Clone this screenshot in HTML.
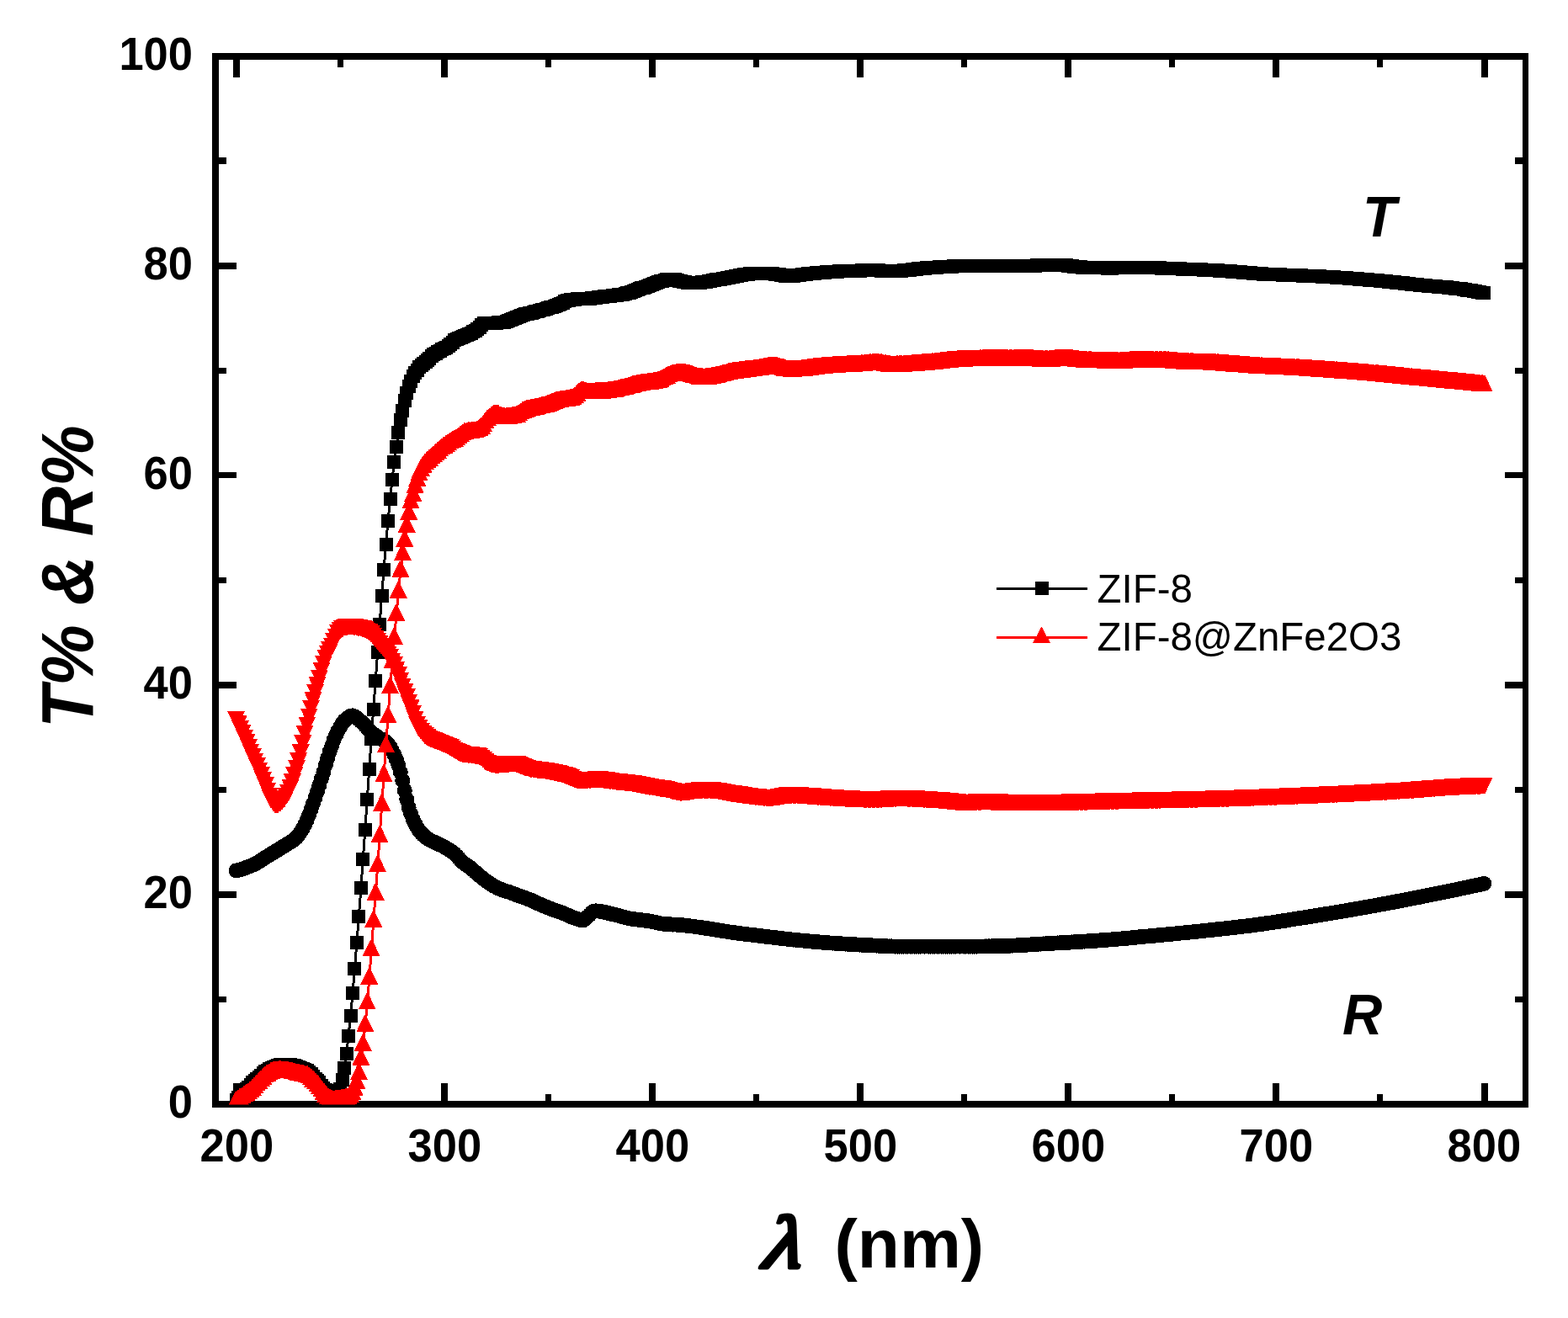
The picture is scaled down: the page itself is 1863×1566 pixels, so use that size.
<!DOCTYPE html>
<html lang="en"><head><meta charset="utf-8"><title>T% &amp; R% vs wavelength</title>
<style>html,body{margin:0;padding:0;background:#fff}svg{display:block}text{font-family:"Liberation Sans",Arial,Helvetica,sans-serif;fill:#000}.tk{font-size:52.5px;font-weight:bold}.ax{font-size:82px;font-weight:bold}.an{font-size:65.5px;font-weight:bold;font-style:italic}.lg{font-size:47.45px}</style></head><body>
<svg width="1863" height="1566" viewBox="0 0 1863 1566" shape-rendering="crispEdges">
<rect width="1863" height="1566" fill="#fff"/>
<g fill="#000">
<path fill-rule="evenodd" d="M252 63H1816V1316H252ZM260 71V1308H1809V71Z"/>
<rect x="277" y="1287" width="8" height="22"/><rect x="277" y="70" width="8" height="22"/><rect x="401" y="1300" width="7" height="9"/><rect x="401" y="70" width="7" height="10"/><rect x="524" y="1287" width="8" height="22"/><rect x="524" y="70" width="8" height="22"/><rect x="648" y="1300" width="7" height="9"/><rect x="648" y="70" width="7" height="10"/><rect x="771" y="1287" width="8" height="22"/><rect x="771" y="70" width="8" height="22"/><rect x="895" y="1300" width="7" height="9"/><rect x="895" y="70" width="7" height="10"/><rect x="1018" y="1287" width="8" height="22"/><rect x="1018" y="70" width="8" height="22"/><rect x="1142" y="1300" width="7" height="9"/><rect x="1142" y="70" width="7" height="10"/><rect x="1265" y="1287" width="8" height="22"/><rect x="1265" y="70" width="8" height="22"/><rect x="1389" y="1300" width="7" height="9"/><rect x="1389" y="70" width="7" height="10"/><rect x="1512" y="1287" width="8" height="22"/><rect x="1512" y="70" width="8" height="22"/><rect x="1636" y="1300" width="7" height="9"/><rect x="1636" y="70" width="7" height="10"/><rect x="1760" y="1287" width="8" height="22"/><rect x="1760" y="70" width="8" height="22"/><rect x="259" y="1184" width="10" height="7"/><rect x="1800" y="1184" width="10" height="7"/><rect x="259" y="1059" width="22" height="8"/><rect x="1788" y="1059" width="22" height="8"/><rect x="259" y="935" width="10" height="7"/><rect x="1800" y="935" width="10" height="7"/><rect x="259" y="810" width="22" height="8"/><rect x="1788" y="810" width="22" height="8"/><rect x="259" y="686" width="10" height="7"/><rect x="1800" y="686" width="10" height="7"/><rect x="259" y="561" width="22" height="7"/><rect x="1788" y="561" width="22" height="7"/><rect x="259" y="437" width="10" height="7"/><rect x="1800" y="437" width="10" height="7"/><rect x="259" y="312" width="22" height="8"/><rect x="1788" y="312" width="22" height="8"/><rect x="259" y="187" width="10" height="8"/><rect x="1800" y="187" width="10" height="8"/>
</g>
<clipPath id="c"><rect x="256" y="67" width="1556.5" height="1245.5"/></clipPath>
<g clip-path="url(#c)">
<path d="M280.6 1307L283.1 1304L285.5 1294.9L288 1295.2L290.5 1294.8L293 1293.9L295.4 1291.9L297.9 1288.8L300.4 1286L302.8 1283.7L305.3 1281.6L307.8 1279.6L310.3 1277.6L312.7 1275.4L315.2 1273.4L317.7 1271.8L320.1 1270.3L322.6 1269L325.1 1267.8L327.5 1266.6L330 1265.6L332.5 1265L335 1264.9L337.4 1264.9L339.9 1264.9L342.4 1264.9L344.8 1265L347.3 1265.6L349.8 1266.4L352.3 1267.3L354.7 1268.1L357.2 1268.9L359.7 1269.8L362.1 1270.8L364.6 1272L367.1 1273.5L369.6 1275.6L372 1278.8L374.5 1281.5L377 1283.7L379.4 1286.4L381.9 1289.5L384.4 1292.7L386.9 1295L389.3 1296.6L391.8 1297.8L394.3 1298.3L396.7 1297.9L399.2 1297L401.7 1295.8L404.2 1293.7L406.6 1283L409.1 1269L411.6 1252L414 1231.1L416.5 1207.4L419 1180L421.4 1150.8L423.9 1120.3L426.4 1088.5L428.9 1054.8L431.3 1020.7L433.8 985.8L436.3 949.7L438.7 913.6L441.2 877.5L443.7 842.6L446.2 809L448.6 775.4L451.1 741.8L453.6 708.2L456 677.1L458.5 647.2L461 619.2L463.5 593.1L465.9 570.2L468.4 549.1L470.9 531L473.3 514.1L475.8 499L478.3 487.8L480.8 476.1L483.2 467.1L485.7 459.4L488.2 453L490.6 447.1L493.1 443L495.6 440L498 436L500.5 433.6L503 431.7L505.5 430L507.9 428.1L510.4 425.5L512.9 423.1L515.3 421.3L517.8 419.7L520.3 418.3L522.8 416.8L525.2 415.4L527.7 414.1L530.2 412.7L532.6 411.2L535.1 409.4L537.6 406.7L540.1 404.2L542.5 402.7L545 401.5L547.5 400.5L549.9 399.6L552.4 398.7L554.9 397.8L557.4 396.8L559.8 395.7L562.3 394.4L564.8 392.9L567.2 391.3L569.7 388.9L572.2 386.1L574.6 384.1L577.1 383.8L579.6 383.7L582.1 383.6L584.5 383.5L587 383.5L589.5 383.5L591.9 383.4L594.4 383.3L596.9 383.2L599.4 382.9L601.8 382.3L604.3 381.4L606.8 380.3L609.2 379.1L611.7 377.9L614.2 376.7L616.7 375.6L619.1 374.7L621.6 373.9L624.1 373.3L626.5 372.7L629 372.1L631.5 371.5L634 371L636.4 370.4L638.9 369.7L641.4 369.1L643.8 368.3L646.3 367.6L648.8 366.8L651.2 366.1L653.7 365.3L656.2 364.5L658.7 363.6L661.1 362.8L663.6 361.8L666.1 360.6L668.5 359.5L671 358.4L673.5 357.4L676 356.6L678.4 356L680.9 355.7L683.4 355.5L685.8 355.4L688.3 355.2L690.8 355.1L693.3 355L695.7 354.9L698.2 354.7L700.7 354.5L703.1 354.3L705.6 354L708.1 353.7L710.6 353.3L713 353L715.5 352.7L718 352.3L720.4 352L722.9 351.7L725.4 351.5L727.9 351.2L730.3 350.9L732.8 350.6L735.3 350.3L737.7 349.9L740.2 349.5L742.7 349L745.1 348.3L747.6 347.6L750.1 346.8L752.6 345.9L755 345L757.5 344.2L760 343.3L762.4 342.4L764.9 341.5L767.4 340.5L769.9 339.5L772.3 338.5L774.8 337.6L777.3 336.7L779.7 335.9L782.2 335.1L784.7 334.3L787.2 333.5L789.6 332.7L792.1 332.1L794.6 331.7L797 331.6L799.5 331.7L802 332.2L804.5 332.8L806.9 333.5L809.4 334.2L811.9 334.7L814.3 335.1L816.8 335.5L819.3 335.9L821.7 336.1L824.2 336.2L826.7 336.1L829.2 336L831.6 335.7L834.1 335.4L836.6 335.1L839 334.7L841.5 334.3L844 333.8L846.5 333.4L848.9 332.9L851.4 332.4L853.9 331.9L856.3 331.5L858.8 331.1L861.3 330.7L863.8 330.3L866.2 329.8L868.7 329.3L871.2 328.8L873.6 328.3L876.1 327.8L878.6 327.3L881.1 326.8L883.5 326.4L886 326L888.5 325.6L890.9 325.3L893.4 325L895.9 324.8L898.4 324.7L900.8 324.7L903.3 324.7L905.8 324.8L908.2 324.8L910.7 324.8L913.2 324.9L915.6 325L918.1 325.1L920.6 325.5L923.1 325.9L925.5 326.4L928 326.9L930.5 327.3L932.9 327.7L935.4 327.8L937.9 327.8L940.4 327.7L942.8 327.5L945.3 327.2L947.8 326.9L950.2 326.5L952.7 326.2L955.2 325.9L957.7 325.6L960.1 325.3L962.6 325.1L965.1 324.9L967.5 324.6L970 324.4L972.5 324.2L975 323.9L977.4 323.7L979.9 323.5L982.4 323.3L984.8 323.1L987.3 322.9L989.8 322.7L992.2 322.6L994.7 322.5L997.2 322.3L999.7 322.2L1002.1 322.1L1004.6 322L1007.1 322L1009.5 321.9L1012 321.8L1014.5 321.7L1017 321.6L1019.4 321.5L1021.9 321.5L1024.4 321.4L1026.8 321.4L1029.3 321.3L1031.8 321.3L1034.3 321.3L1036.7 321.2L1039.2 321.2L1041.7 321.3L1044.1 321.3L1046.6 321.5L1049.1 321.7L1051.6 321.8L1054 322L1056.5 322.1L1059 322.2L1061.4 322.2L1063.9 322.1L1066.4 322L1068.8 321.9L1071.3 321.7L1073.8 321.4L1076.3 321.1L1078.7 320.9L1081.2 320.6L1083.7 320.2L1086.1 319.9L1088.6 319.6L1091.1 319.3L1093.6 319.1L1096 318.8L1098.5 318.6L1101 318.4L1103.4 318.2L1105.9 318.1L1108.4 317.9L1110.9 317.7L1113.3 317.5L1115.8 317.4L1118.3 317.2L1120.7 317L1123.2 316.9L1125.7 316.8L1128.2 316.6L1130.6 316.5L1133.1 316.4L1135.6 316.3L1138 316.3L1140.5 316.2L1143 316.2L1145.5 316.2L1147.9 316.2L1150.4 316.1L1152.9 316.1L1155.3 316.1L1157.8 316.1L1160.3 316.1L1162.7 316.1L1165.2 316L1167.7 316L1170.2 316L1172.6 316L1175.1 316L1177.6 316L1180 316L1182.5 315.9L1185 315.9L1187.5 315.9L1189.9 315.9L1192.4 315.9L1194.9 315.9L1197.3 315.9L1199.8 315.9L1202.3 315.9L1204.8 315.9L1207.2 315.8L1209.7 315.8L1212.2 315.8L1214.6 315.8L1217.1 315.8L1219.6 315.8L1222.1 315.7L1224.5 315.7L1227 315.6L1229.5 315.5L1231.9 315.4L1234.4 315.4L1236.9 315.3L1239.3 315.2L1241.8 315.1L1244.3 315L1246.8 314.9L1249.2 314.8L1251.7 314.8L1254.2 314.8L1256.6 314.8L1259.1 314.8L1261.6 314.9L1264.1 315.1L1266.5 315.4L1269 315.6L1271.5 315.9L1273.9 316.2L1276.4 316.5L1278.9 316.8L1281.4 317.1L1283.8 317.3L1286.3 317.5L1288.8 317.7L1291.2 317.8L1293.7 317.9L1296.2 318L1298.7 318.1L1301.1 318.1L1303.6 318.2L1306.1 318.3L1308.5 318.4L1311 318.4L1313.5 318.4L1315.9 318.5L1318.4 318.5L1320.9 318.5L1323.4 318.4L1325.8 318.4L1328.3 318.3L1330.8 318.2L1333.2 318.1L1335.7 318L1338.2 317.9L1340.7 317.8L1343.1 317.7L1345.6 317.7L1348.1 317.8L1350.5 317.8L1353 317.8L1355.5 317.9L1358 317.9L1360.4 318L1362.9 318L1365.4 318.1L1367.8 318.1L1370.3 318.2L1372.8 318.3L1375.3 318.4L1377.7 318.4L1380.2 318.5L1382.7 318.6L1385.1 318.7L1387.6 318.8L1390.1 318.9L1392.6 319L1395 319.1L1397.5 319.2L1400 319.3L1402.4 319.4L1404.9 319.5L1407.4 319.6L1409.8 319.7L1412.3 319.8L1414.8 319.9L1417.3 320L1419.7 320.1L1422.2 320.2L1424.7 320.3L1427.1 320.4L1429.6 320.5L1432.1 320.6L1434.6 320.7L1437 320.8L1439.5 321L1442 321.1L1444.4 321.2L1446.9 321.4L1449.4 321.5L1451.9 321.7L1454.3 321.8L1456.8 322L1459.3 322.2L1461.7 322.4L1464.2 322.5L1466.7 322.7L1469.2 322.9L1471.6 323.1L1474.1 323.3L1476.6 323.5L1479 323.7L1481.5 323.9L1484 324.2L1486.4 324.4L1488.9 324.6L1491.4 324.8L1493.9 325L1496.3 325.2L1498.8 325.4L1501.3 325.5L1503.7 325.7L1506.2 325.8L1508.7 325.9L1511.2 326L1513.6 326.1L1516.1 326.2L1518.6 326.3L1521 326.4L1523.5 326.5L1526 326.6L1528.5 326.7L1530.9 326.8L1533.4 326.9L1535.9 327L1538.3 327.1L1540.8 327.2L1543.3 327.3L1545.8 327.4L1548.2 327.5L1550.7 327.6L1553.2 327.8L1555.6 327.9L1558.1 328L1560.6 328.1L1563 328.2L1565.5 328.3L1568 328.4L1570.5 328.6L1572.9 328.7L1575.4 328.8L1577.9 328.9L1580.3 329.1L1582.8 329.2L1585.3 329.3L1587.8 329.5L1590.2 329.6L1592.7 329.8L1595.2 329.9L1597.6 330.1L1600.1 330.3L1602.6 330.5L1605.1 330.7L1607.5 330.9L1610 331L1612.5 331.3L1614.9 331.5L1617.4 331.7L1619.9 331.9L1622.4 332.1L1624.8 332.3L1627.3 332.5L1629.8 332.8L1632.2 333L1634.7 333.2L1637.2 333.4L1639.7 333.7L1642.1 333.9L1644.6 334.1L1647.1 334.4L1649.5 334.6L1652 334.9L1654.5 335.1L1656.9 335.4L1659.4 335.6L1661.9 335.9L1664.4 336.2L1666.8 336.4L1669.3 336.7L1671.8 337L1674.2 337.3L1676.7 337.5L1679.2 337.8L1681.7 338L1684.1 338.3L1686.6 338.6L1689.1 338.8L1691.5 339.1L1694 339.3L1696.5 339.5L1699 339.7L1701.4 340L1703.9 340.2L1706.4 340.4L1708.8 340.6L1711.3 340.8L1713.8 341L1716.3 341.2L1718.7 341.4L1721.2 341.7L1723.7 341.9L1726.1 342.2L1728.6 342.5L1731.1 342.8L1733.5 343.1L1736 343.4L1738.5 343.8L1741 344.2L1743.4 344.6L1745.9 345L1748.4 345.4L1750.8 345.9L1753.3 346.4L1755.8 346.9L1758.3 347.3L1760.7 347.9L1763.2 348.4" fill="none" stroke="#000" stroke-width="3"/>
<path d="M272.6 1299h16v16h-16zM275.1 1296h16v16h-16zM277.5 1286.9h16v16h-16zM280 1287.2h16v16h-16zM282.5 1286.8h16v16h-16zM285 1285.9h16v16h-16zM287.4 1283.9h16v16h-16zM289.9 1280.8h16v16h-16zM292.4 1278h16v16h-16zM294.8 1275.7h16v16h-16zM297.3 1273.6h16v16h-16zM299.8 1271.6h16v16h-16zM302.3 1269.6h16v16h-16zM304.7 1267.4h16v16h-16zM307.2 1265.4h16v16h-16zM309.7 1263.8h16v16h-16zM312.1 1262.3h16v16h-16zM314.6 1261h16v16h-16zM317.1 1259.8h16v16h-16zM319.5 1258.6h16v16h-16zM322 1257.6h16v16h-16zM324.5 1257h16v16h-16zM327 1256.9h16v16h-16zM329.4 1256.9h16v16h-16zM331.9 1256.9h16v16h-16zM334.4 1256.9h16v16h-16zM336.8 1257h16v16h-16zM339.3 1257.6h16v16h-16zM341.8 1258.4h16v16h-16zM344.3 1259.3h16v16h-16zM346.7 1260.1h16v16h-16zM349.2 1260.9h16v16h-16zM351.7 1261.8h16v16h-16zM354.1 1262.8h16v16h-16zM356.6 1264h16v16h-16zM359.1 1265.5h16v16h-16zM361.6 1267.6h16v16h-16zM364 1270.8h16v16h-16zM366.5 1273.5h16v16h-16zM369 1275.7h16v16h-16zM371.4 1278.4h16v16h-16zM373.9 1281.5h16v16h-16zM376.4 1284.7h16v16h-16zM378.9 1287h16v16h-16zM381.3 1288.6h16v16h-16zM383.8 1289.8h16v16h-16zM386.3 1290.3h16v16h-16zM388.7 1289.9h16v16h-16zM391.2 1289h16v16h-16zM393.7 1287.8h16v16h-16zM396.2 1285.7h16v16h-16zM398.6 1275h16v16h-16zM401.1 1261h16v16h-16zM403.6 1244h16v16h-16zM406 1223.1h16v16h-16zM408.5 1199.4h16v16h-16zM411 1172h16v16h-16zM413.4 1142.8h16v16h-16zM415.9 1112.3h16v16h-16zM418.4 1080.5h16v16h-16zM420.9 1046.8h16v16h-16zM423.3 1012.7h16v16h-16zM425.8 977.8h16v16h-16zM428.3 941.7h16v16h-16zM430.7 905.6h16v16h-16zM433.2 869.5h16v16h-16zM435.7 834.6h16v16h-16zM438.2 801h16v16h-16zM440.6 767.4h16v16h-16zM443.1 733.8h16v16h-16zM445.6 700.2h16v16h-16zM448 669.1h16v16h-16zM450.5 639.2h16v16h-16zM453 611.2h16v16h-16zM455.5 585.1h16v16h-16zM457.9 562.2h16v16h-16zM460.4 541.1h16v16h-16zM462.9 523h16v16h-16zM465.3 506.1h16v16h-16zM467.8 491h16v16h-16zM470.3 479.8h16v16h-16zM472.8 468.1h16v16h-16zM475.2 459.1h16v16h-16zM477.7 451.4h16v16h-16zM480.2 445h16v16h-16zM482.6 439.1h16v16h-16zM485.1 435h16v16h-16zM487.6 432h16v16h-16zM490 428h16v16h-16zM492.5 425.6h16v16h-16zM495 423.7h16v16h-16zM497.5 422h16v16h-16zM499.9 420.1h16v16h-16zM502.4 417.5h16v16h-16zM504.9 415.1h16v16h-16zM507.3 413.3h16v16h-16zM509.8 411.7h16v16h-16zM512.3 410.3h16v16h-16zM514.8 408.8h16v16h-16zM517.2 407.4h16v16h-16zM519.7 406.1h16v16h-16zM522.2 404.7h16v16h-16zM524.6 403.2h16v16h-16zM527.1 401.4h16v16h-16zM529.6 398.7h16v16h-16zM532.1 396.2h16v16h-16zM534.5 394.7h16v16h-16zM537 393.5h16v16h-16zM539.5 392.5h16v16h-16zM541.9 391.6h16v16h-16zM544.4 390.7h16v16h-16zM546.9 389.8h16v16h-16zM549.4 388.8h16v16h-16zM551.8 387.7h16v16h-16zM554.3 386.4h16v16h-16zM556.8 384.9h16v16h-16zM559.2 383.3h16v16h-16zM561.7 380.9h16v16h-16zM564.2 378.1h16v16h-16zM566.6 376.1h16v16h-16zM569.1 375.8h16v16h-16zM571.6 375.7h16v16h-16zM574.1 375.6h16v16h-16zM576.5 375.5h16v16h-16zM579 375.5h16v16h-16zM581.5 375.5h16v16h-16zM583.9 375.4h16v16h-16zM586.4 375.3h16v16h-16zM588.9 375.2h16v16h-16zM591.4 374.9h16v16h-16zM593.8 374.3h16v16h-16zM596.3 373.4h16v16h-16zM598.8 372.3h16v16h-16zM601.2 371.1h16v16h-16zM603.7 369.9h16v16h-16zM606.2 368.7h16v16h-16zM608.7 367.6h16v16h-16zM611.1 366.7h16v16h-16zM613.6 365.9h16v16h-16zM616.1 365.3h16v16h-16zM618.5 364.7h16v16h-16zM621 364.1h16v16h-16zM623.5 363.5h16v16h-16zM626 363h16v16h-16zM628.4 362.4h16v16h-16zM630.9 361.7h16v16h-16zM633.4 361.1h16v16h-16zM635.8 360.3h16v16h-16zM638.3 359.6h16v16h-16zM640.8 358.8h16v16h-16zM643.2 358.1h16v16h-16zM645.7 357.3h16v16h-16zM648.2 356.5h16v16h-16zM650.7 355.6h16v16h-16zM653.1 354.8h16v16h-16zM655.6 353.8h16v16h-16zM658.1 352.6h16v16h-16zM660.5 351.5h16v16h-16zM663 350.4h16v16h-16zM665.5 349.4h16v16h-16zM668 348.6h16v16h-16zM670.4 348h16v16h-16zM672.9 347.7h16v16h-16zM675.4 347.5h16v16h-16zM677.8 347.4h16v16h-16zM680.3 347.2h16v16h-16zM682.8 347.1h16v16h-16zM685.3 347h16v16h-16zM687.7 346.9h16v16h-16zM690.2 346.7h16v16h-16zM692.7 346.5h16v16h-16zM695.1 346.3h16v16h-16zM697.6 346h16v16h-16zM700.1 345.7h16v16h-16zM702.6 345.3h16v16h-16zM705 345h16v16h-16zM707.5 344.7h16v16h-16zM710 344.3h16v16h-16zM712.4 344h16v16h-16zM714.9 343.7h16v16h-16zM717.4 343.5h16v16h-16zM719.9 343.2h16v16h-16zM722.3 342.9h16v16h-16zM724.8 342.6h16v16h-16zM727.3 342.3h16v16h-16zM729.7 341.9h16v16h-16zM732.2 341.5h16v16h-16zM734.7 341h16v16h-16zM737.1 340.3h16v16h-16zM739.6 339.6h16v16h-16zM742.1 338.8h16v16h-16zM744.6 337.9h16v16h-16zM747 337h16v16h-16zM749.5 336.2h16v16h-16zM752 335.3h16v16h-16zM754.4 334.4h16v16h-16zM756.9 333.5h16v16h-16zM759.4 332.5h16v16h-16zM761.9 331.5h16v16h-16zM764.3 330.5h16v16h-16zM766.8 329.6h16v16h-16zM769.3 328.7h16v16h-16zM771.7 327.9h16v16h-16zM774.2 327.1h16v16h-16zM776.7 326.3h16v16h-16zM779.2 325.5h16v16h-16zM781.6 324.7h16v16h-16zM784.1 324.1h16v16h-16zM786.6 323.7h16v16h-16zM789 323.6h16v16h-16zM791.5 323.7h16v16h-16zM794 324.2h16v16h-16zM796.5 324.8h16v16h-16zM798.9 325.5h16v16h-16zM801.4 326.2h16v16h-16zM803.9 326.7h16v16h-16zM806.3 327.1h16v16h-16zM808.8 327.5h16v16h-16zM811.3 327.9h16v16h-16zM813.7 328.1h16v16h-16zM816.2 328.2h16v16h-16zM818.7 328.1h16v16h-16zM821.2 328h16v16h-16zM823.6 327.7h16v16h-16zM826.1 327.4h16v16h-16zM828.6 327.1h16v16h-16zM831 326.7h16v16h-16zM833.5 326.3h16v16h-16zM836 325.8h16v16h-16zM838.5 325.4h16v16h-16zM840.9 324.9h16v16h-16zM843.4 324.4h16v16h-16zM845.9 323.9h16v16h-16zM848.3 323.5h16v16h-16zM850.8 323.1h16v16h-16zM853.3 322.7h16v16h-16zM855.8 322.3h16v16h-16zM858.2 321.8h16v16h-16zM860.7 321.3h16v16h-16zM863.2 320.8h16v16h-16zM865.6 320.3h16v16h-16zM868.1 319.8h16v16h-16zM870.6 319.3h16v16h-16zM873.1 318.8h16v16h-16zM875.5 318.4h16v16h-16zM878 318h16v16h-16zM880.5 317.6h16v16h-16zM882.9 317.3h16v16h-16zM885.4 317h16v16h-16zM887.9 316.8h16v16h-16zM890.4 316.7h16v16h-16zM892.8 316.7h16v16h-16zM895.3 316.7h16v16h-16zM897.8 316.8h16v16h-16zM900.2 316.8h16v16h-16zM902.7 316.8h16v16h-16zM905.2 316.9h16v16h-16zM907.6 317h16v16h-16zM910.1 317.1h16v16h-16zM912.6 317.5h16v16h-16zM915.1 317.9h16v16h-16zM917.5 318.4h16v16h-16zM920 318.9h16v16h-16zM922.5 319.3h16v16h-16zM924.9 319.7h16v16h-16zM927.4 319.8h16v16h-16zM929.9 319.8h16v16h-16zM932.4 319.7h16v16h-16zM934.8 319.5h16v16h-16zM937.3 319.2h16v16h-16zM939.8 318.9h16v16h-16zM942.2 318.5h16v16h-16zM944.7 318.2h16v16h-16zM947.2 317.9h16v16h-16zM949.7 317.6h16v16h-16zM952.1 317.3h16v16h-16zM954.6 317.1h16v16h-16zM957.1 316.9h16v16h-16zM959.5 316.6h16v16h-16zM962 316.4h16v16h-16zM964.5 316.2h16v16h-16zM967 315.9h16v16h-16zM969.4 315.7h16v16h-16zM971.9 315.5h16v16h-16zM974.4 315.3h16v16h-16zM976.8 315.1h16v16h-16zM979.3 314.9h16v16h-16zM981.8 314.7h16v16h-16zM984.2 314.6h16v16h-16zM986.7 314.5h16v16h-16zM989.2 314.3h16v16h-16zM991.7 314.2h16v16h-16zM994.1 314.1h16v16h-16zM996.6 314h16v16h-16zM999.1 314h16v16h-16zM1001.5 313.9h16v16h-16zM1004 313.8h16v16h-16zM1006.5 313.7h16v16h-16zM1009 313.6h16v16h-16zM1011.4 313.5h16v16h-16zM1013.9 313.5h16v16h-16zM1016.4 313.4h16v16h-16zM1018.8 313.4h16v16h-16zM1021.3 313.3h16v16h-16zM1023.8 313.3h16v16h-16zM1026.3 313.3h16v16h-16zM1028.7 313.2h16v16h-16zM1031.2 313.2h16v16h-16zM1033.7 313.3h16v16h-16zM1036.1 313.3h16v16h-16zM1038.6 313.5h16v16h-16zM1041.1 313.7h16v16h-16zM1043.6 313.8h16v16h-16zM1046 314h16v16h-16zM1048.5 314.1h16v16h-16zM1051 314.2h16v16h-16zM1053.4 314.2h16v16h-16zM1055.9 314.1h16v16h-16zM1058.4 314h16v16h-16zM1060.8 313.9h16v16h-16zM1063.3 313.7h16v16h-16zM1065.8 313.4h16v16h-16zM1068.3 313.1h16v16h-16zM1070.7 312.9h16v16h-16zM1073.2 312.6h16v16h-16zM1075.7 312.2h16v16h-16zM1078.1 311.9h16v16h-16zM1080.6 311.6h16v16h-16zM1083.1 311.3h16v16h-16zM1085.6 311.1h16v16h-16zM1088 310.8h16v16h-16zM1090.5 310.6h16v16h-16zM1093 310.4h16v16h-16zM1095.4 310.2h16v16h-16zM1097.9 310.1h16v16h-16zM1100.4 309.9h16v16h-16zM1102.9 309.7h16v16h-16zM1105.3 309.5h16v16h-16zM1107.8 309.4h16v16h-16zM1110.3 309.2h16v16h-16zM1112.7 309h16v16h-16zM1115.2 308.9h16v16h-16zM1117.7 308.8h16v16h-16zM1120.2 308.6h16v16h-16zM1122.6 308.5h16v16h-16zM1125.1 308.4h16v16h-16zM1127.6 308.3h16v16h-16zM1130 308.3h16v16h-16zM1132.5 308.2h16v16h-16zM1135 308.2h16v16h-16zM1137.5 308.2h16v16h-16zM1139.9 308.2h16v16h-16zM1142.4 308.1h16v16h-16zM1144.9 308.1h16v16h-16zM1147.3 308.1h16v16h-16zM1149.8 308.1h16v16h-16zM1152.3 308.1h16v16h-16zM1154.7 308.1h16v16h-16zM1157.2 308h16v16h-16zM1159.7 308h16v16h-16zM1162.2 308h16v16h-16zM1164.6 308h16v16h-16zM1167.1 308h16v16h-16zM1169.6 308h16v16h-16zM1172 308h16v16h-16zM1174.5 307.9h16v16h-16zM1177 307.9h16v16h-16zM1179.5 307.9h16v16h-16zM1181.9 307.9h16v16h-16zM1184.4 307.9h16v16h-16zM1186.9 307.9h16v16h-16zM1189.3 307.9h16v16h-16zM1191.8 307.9h16v16h-16zM1194.3 307.9h16v16h-16zM1196.8 307.9h16v16h-16zM1199.2 307.8h16v16h-16zM1201.7 307.8h16v16h-16zM1204.2 307.8h16v16h-16zM1206.6 307.8h16v16h-16zM1209.1 307.8h16v16h-16zM1211.6 307.8h16v16h-16zM1214.1 307.7h16v16h-16zM1216.5 307.7h16v16h-16zM1219 307.6h16v16h-16zM1221.5 307.5h16v16h-16zM1223.9 307.4h16v16h-16zM1226.4 307.4h16v16h-16zM1228.9 307.3h16v16h-16zM1231.3 307.2h16v16h-16zM1233.8 307.1h16v16h-16zM1236.3 307h16v16h-16zM1238.8 306.9h16v16h-16zM1241.2 306.8h16v16h-16zM1243.7 306.8h16v16h-16zM1246.2 306.8h16v16h-16zM1248.6 306.8h16v16h-16zM1251.1 306.8h16v16h-16zM1253.6 306.9h16v16h-16zM1256.1 307.1h16v16h-16zM1258.5 307.4h16v16h-16zM1261 307.6h16v16h-16zM1263.5 307.9h16v16h-16zM1265.9 308.2h16v16h-16zM1268.4 308.5h16v16h-16zM1270.9 308.8h16v16h-16zM1273.4 309.1h16v16h-16zM1275.8 309.3h16v16h-16zM1278.3 309.5h16v16h-16zM1280.8 309.7h16v16h-16zM1283.2 309.8h16v16h-16zM1285.7 309.9h16v16h-16zM1288.2 310h16v16h-16zM1290.7 310.1h16v16h-16zM1293.1 310.1h16v16h-16zM1295.6 310.2h16v16h-16zM1298.1 310.3h16v16h-16zM1300.5 310.4h16v16h-16zM1303 310.4h16v16h-16zM1305.5 310.4h16v16h-16zM1307.9 310.5h16v16h-16zM1310.4 310.5h16v16h-16zM1312.9 310.5h16v16h-16zM1315.4 310.4h16v16h-16zM1317.8 310.4h16v16h-16zM1320.3 310.3h16v16h-16zM1322.8 310.2h16v16h-16zM1325.2 310.1h16v16h-16zM1327.7 310h16v16h-16zM1330.2 309.9h16v16h-16zM1332.7 309.8h16v16h-16zM1335.1 309.7h16v16h-16zM1337.6 309.7h16v16h-16zM1340.1 309.8h16v16h-16zM1342.5 309.8h16v16h-16zM1345 309.8h16v16h-16zM1347.5 309.9h16v16h-16zM1350 309.9h16v16h-16zM1352.4 310h16v16h-16zM1354.9 310h16v16h-16zM1357.4 310.1h16v16h-16zM1359.8 310.1h16v16h-16zM1362.3 310.2h16v16h-16zM1364.8 310.3h16v16h-16zM1367.3 310.4h16v16h-16zM1369.7 310.4h16v16h-16zM1372.2 310.5h16v16h-16zM1374.7 310.6h16v16h-16zM1377.1 310.7h16v16h-16zM1379.6 310.8h16v16h-16zM1382.1 310.9h16v16h-16zM1384.6 311h16v16h-16zM1387 311.1h16v16h-16zM1389.5 311.2h16v16h-16zM1392 311.3h16v16h-16zM1394.4 311.4h16v16h-16zM1396.9 311.5h16v16h-16zM1399.4 311.6h16v16h-16zM1401.8 311.7h16v16h-16zM1404.3 311.8h16v16h-16zM1406.8 311.9h16v16h-16zM1409.3 312h16v16h-16zM1411.7 312.1h16v16h-16zM1414.2 312.2h16v16h-16zM1416.7 312.3h16v16h-16zM1419.1 312.4h16v16h-16zM1421.6 312.5h16v16h-16zM1424.1 312.6h16v16h-16zM1426.6 312.7h16v16h-16zM1429 312.8h16v16h-16zM1431.5 313h16v16h-16zM1434 313.1h16v16h-16zM1436.4 313.2h16v16h-16zM1438.9 313.4h16v16h-16zM1441.4 313.5h16v16h-16zM1443.9 313.7h16v16h-16zM1446.3 313.8h16v16h-16zM1448.8 314h16v16h-16zM1451.3 314.2h16v16h-16zM1453.7 314.4h16v16h-16zM1456.2 314.5h16v16h-16zM1458.7 314.7h16v16h-16zM1461.2 314.9h16v16h-16zM1463.6 315.1h16v16h-16zM1466.1 315.3h16v16h-16zM1468.6 315.5h16v16h-16zM1471 315.7h16v16h-16zM1473.5 315.9h16v16h-16zM1476 316.2h16v16h-16zM1478.4 316.4h16v16h-16zM1480.9 316.6h16v16h-16zM1483.4 316.8h16v16h-16zM1485.9 317h16v16h-16zM1488.3 317.2h16v16h-16zM1490.8 317.4h16v16h-16zM1493.3 317.5h16v16h-16zM1495.7 317.7h16v16h-16zM1498.2 317.8h16v16h-16zM1500.7 317.9h16v16h-16zM1503.2 318h16v16h-16zM1505.6 318.1h16v16h-16zM1508.1 318.2h16v16h-16zM1510.6 318.3h16v16h-16zM1513 318.4h16v16h-16zM1515.5 318.5h16v16h-16zM1518 318.6h16v16h-16zM1520.5 318.7h16v16h-16zM1522.9 318.8h16v16h-16zM1525.4 318.9h16v16h-16zM1527.9 319h16v16h-16zM1530.3 319.1h16v16h-16zM1532.8 319.2h16v16h-16zM1535.3 319.3h16v16h-16zM1537.8 319.4h16v16h-16zM1540.2 319.5h16v16h-16zM1542.7 319.6h16v16h-16zM1545.2 319.8h16v16h-16zM1547.6 319.9h16v16h-16zM1550.1 320h16v16h-16zM1552.6 320.1h16v16h-16zM1555 320.2h16v16h-16zM1557.5 320.3h16v16h-16zM1560 320.4h16v16h-16zM1562.5 320.6h16v16h-16zM1564.9 320.7h16v16h-16zM1567.4 320.8h16v16h-16zM1569.9 320.9h16v16h-16zM1572.3 321.1h16v16h-16zM1574.8 321.2h16v16h-16zM1577.3 321.3h16v16h-16zM1579.8 321.5h16v16h-16zM1582.2 321.6h16v16h-16zM1584.7 321.8h16v16h-16zM1587.2 321.9h16v16h-16zM1589.6 322.1h16v16h-16zM1592.1 322.3h16v16h-16zM1594.6 322.5h16v16h-16zM1597.1 322.7h16v16h-16zM1599.5 322.9h16v16h-16zM1602 323h16v16h-16zM1604.5 323.3h16v16h-16zM1606.9 323.5h16v16h-16zM1609.4 323.7h16v16h-16zM1611.9 323.9h16v16h-16zM1614.4 324.1h16v16h-16zM1616.8 324.3h16v16h-16zM1619.3 324.5h16v16h-16zM1621.8 324.8h16v16h-16zM1624.2 325h16v16h-16zM1626.7 325.2h16v16h-16zM1629.2 325.4h16v16h-16zM1631.7 325.7h16v16h-16zM1634.1 325.9h16v16h-16zM1636.6 326.1h16v16h-16zM1639.1 326.4h16v16h-16zM1641.5 326.6h16v16h-16zM1644 326.9h16v16h-16zM1646.5 327.1h16v16h-16zM1648.9 327.4h16v16h-16zM1651.4 327.6h16v16h-16zM1653.9 327.9h16v16h-16zM1656.4 328.2h16v16h-16zM1658.8 328.4h16v16h-16zM1661.3 328.7h16v16h-16zM1663.8 329h16v16h-16zM1666.2 329.3h16v16h-16zM1668.7 329.5h16v16h-16zM1671.2 329.8h16v16h-16zM1673.7 330h16v16h-16zM1676.1 330.3h16v16h-16zM1678.6 330.6h16v16h-16zM1681.1 330.8h16v16h-16zM1683.5 331.1h16v16h-16zM1686 331.3h16v16h-16zM1688.5 331.5h16v16h-16zM1691 331.7h16v16h-16zM1693.4 332h16v16h-16zM1695.9 332.2h16v16h-16zM1698.4 332.4h16v16h-16zM1700.8 332.6h16v16h-16zM1703.3 332.8h16v16h-16zM1705.8 333h16v16h-16zM1708.3 333.2h16v16h-16zM1710.7 333.4h16v16h-16zM1713.2 333.7h16v16h-16zM1715.7 333.9h16v16h-16zM1718.1 334.2h16v16h-16zM1720.6 334.5h16v16h-16zM1723.1 334.8h16v16h-16zM1725.5 335.1h16v16h-16zM1728 335.4h16v16h-16zM1730.5 335.8h16v16h-16zM1733 336.2h16v16h-16zM1735.4 336.6h16v16h-16zM1737.9 337h16v16h-16zM1740.4 337.4h16v16h-16zM1742.8 337.9h16v16h-16zM1745.3 338.4h16v16h-16zM1747.8 338.9h16v16h-16zM1750.3 339.3h16v16h-16zM1752.7 339.9h16v16h-16zM1755.2 340.4h16v16h-16z" fill="#000"/>
<path d="M271.6 1034.4a9 9 0 1 0 18 0a9 9 0 1 0 -18 0zM274.1 1033.8a9 9 0 1 0 18 0a9 9 0 1 0 -18 0zM276.5 1033.2a9 9 0 1 0 18 0a9 9 0 1 0 -18 0zM279 1032.5a9 9 0 1 0 18 0a9 9 0 1 0 -18 0zM281.5 1031.7a9 9 0 1 0 18 0a9 9 0 1 0 -18 0zM284 1030.8a9 9 0 1 0 18 0a9 9 0 1 0 -18 0zM286.4 1029.9a9 9 0 1 0 18 0a9 9 0 1 0 -18 0zM288.9 1028.9a9 9 0 1 0 18 0a9 9 0 1 0 -18 0zM291.4 1027.8a9 9 0 1 0 18 0a9 9 0 1 0 -18 0zM293.8 1026.6a9 9 0 1 0 18 0a9 9 0 1 0 -18 0zM296.3 1025.3a9 9 0 1 0 18 0a9 9 0 1 0 -18 0zM298.8 1023.8a9 9 0 1 0 18 0a9 9 0 1 0 -18 0zM301.3 1022.2a9 9 0 1 0 18 0a9 9 0 1 0 -18 0zM303.7 1020.6a9 9 0 1 0 18 0a9 9 0 1 0 -18 0zM306.2 1019a9 9 0 1 0 18 0a9 9 0 1 0 -18 0zM308.7 1017.4a9 9 0 1 0 18 0a9 9 0 1 0 -18 0zM311.1 1015.9a9 9 0 1 0 18 0a9 9 0 1 0 -18 0zM313.6 1014.4a9 9 0 1 0 18 0a9 9 0 1 0 -18 0zM316.1 1012.9a9 9 0 1 0 18 0a9 9 0 1 0 -18 0zM318.5 1011.4a9 9 0 1 0 18 0a9 9 0 1 0 -18 0zM321 1009.9a9 9 0 1 0 18 0a9 9 0 1 0 -18 0zM323.5 1008.4a9 9 0 1 0 18 0a9 9 0 1 0 -18 0zM326 1006.8a9 9 0 1 0 18 0a9 9 0 1 0 -18 0zM328.4 1005.3a9 9 0 1 0 18 0a9 9 0 1 0 -18 0zM330.9 1003.7a9 9 0 1 0 18 0a9 9 0 1 0 -18 0zM333.4 1002.2a9 9 0 1 0 18 0a9 9 0 1 0 -18 0zM335.8 1000.8a9 9 0 1 0 18 0a9 9 0 1 0 -18 0zM338.3 999.3a9 9 0 1 0 18 0a9 9 0 1 0 -18 0zM340.8 997.5a9 9 0 1 0 18 0a9 9 0 1 0 -18 0zM343.3 995.2a9 9 0 1 0 18 0a9 9 0 1 0 -18 0zM345.7 992.2a9 9 0 1 0 18 0a9 9 0 1 0 -18 0zM348.2 988.5a9 9 0 1 0 18 0a9 9 0 1 0 -18 0zM350.7 984.4a9 9 0 1 0 18 0a9 9 0 1 0 -18 0zM353.1 979.9a9 9 0 1 0 18 0a9 9 0 1 0 -18 0zM355.6 974.5a9 9 0 1 0 18 0a9 9 0 1 0 -18 0zM358.1 968.4a9 9 0 1 0 18 0a9 9 0 1 0 -18 0zM360.6 961.7a9 9 0 1 0 18 0a9 9 0 1 0 -18 0zM363 954.8a9 9 0 1 0 18 0a9 9 0 1 0 -18 0zM365.5 947.9a9 9 0 1 0 18 0a9 9 0 1 0 -18 0zM368 940.6a9 9 0 1 0 18 0a9 9 0 1 0 -18 0zM370.4 933a9 9 0 1 0 18 0a9 9 0 1 0 -18 0zM372.9 925.3a9 9 0 1 0 18 0a9 9 0 1 0 -18 0zM375.4 917.3a9 9 0 1 0 18 0a9 9 0 1 0 -18 0zM377.9 908.8a9 9 0 1 0 18 0a9 9 0 1 0 -18 0zM380.3 900.5a9 9 0 1 0 18 0a9 9 0 1 0 -18 0zM382.8 892.8a9 9 0 1 0 18 0a9 9 0 1 0 -18 0zM385.3 885.8a9 9 0 1 0 18 0a9 9 0 1 0 -18 0zM387.7 879.1a9 9 0 1 0 18 0a9 9 0 1 0 -18 0zM390.2 873.1a9 9 0 1 0 18 0a9 9 0 1 0 -18 0zM392.7 868.1a9 9 0 1 0 18 0a9 9 0 1 0 -18 0zM395.2 863.6a9 9 0 1 0 18 0a9 9 0 1 0 -18 0zM397.6 859.6a9 9 0 1 0 18 0a9 9 0 1 0 -18 0zM400.1 856.4a9 9 0 1 0 18 0a9 9 0 1 0 -18 0zM402.6 854.2a9 9 0 1 0 18 0a9 9 0 1 0 -18 0zM405 852.2a9 9 0 1 0 18 0a9 9 0 1 0 -18 0zM407.5 850.8a9 9 0 1 0 18 0a9 9 0 1 0 -18 0zM410 850.4a9 9 0 1 0 18 0a9 9 0 1 0 -18 0zM412.4 851.2a9 9 0 1 0 18 0a9 9 0 1 0 -18 0zM414.9 852.9a9 9 0 1 0 18 0a9 9 0 1 0 -18 0zM417.4 855.1a9 9 0 1 0 18 0a9 9 0 1 0 -18 0zM419.9 857.3a9 9 0 1 0 18 0a9 9 0 1 0 -18 0zM422.3 859.6a9 9 0 1 0 18 0a9 9 0 1 0 -18 0zM424.8 862.3a9 9 0 1 0 18 0a9 9 0 1 0 -18 0zM427.3 865.2a9 9 0 1 0 18 0a9 9 0 1 0 -18 0zM429.7 867.9a9 9 0 1 0 18 0a9 9 0 1 0 -18 0zM432.2 870.1a9 9 0 1 0 18 0a9 9 0 1 0 -18 0zM434.7 872a9 9 0 1 0 18 0a9 9 0 1 0 -18 0zM437.2 873.9a9 9 0 1 0 18 0a9 9 0 1 0 -18 0zM439.6 875.6a9 9 0 1 0 18 0a9 9 0 1 0 -18 0zM442.1 877.2a9 9 0 1 0 18 0a9 9 0 1 0 -18 0zM444.6 878.5a9 9 0 1 0 18 0a9 9 0 1 0 -18 0zM447 879.8a9 9 0 1 0 18 0a9 9 0 1 0 -18 0zM449.5 881.4a9 9 0 1 0 18 0a9 9 0 1 0 -18 0zM452 883.8a9 9 0 1 0 18 0a9 9 0 1 0 -18 0zM454.5 887.2a9 9 0 1 0 18 0a9 9 0 1 0 -18 0zM456.9 891.6a9 9 0 1 0 18 0a9 9 0 1 0 -18 0zM459.4 896.6a9 9 0 1 0 18 0a9 9 0 1 0 -18 0zM461.9 902.3a9 9 0 1 0 18 0a9 9 0 1 0 -18 0zM464.3 909.2a9 9 0 1 0 18 0a9 9 0 1 0 -18 0zM466.8 917.5a9 9 0 1 0 18 0a9 9 0 1 0 -18 0zM469.3 927.6a9 9 0 1 0 18 0a9 9 0 1 0 -18 0zM471.8 939.2a9 9 0 1 0 18 0a9 9 0 1 0 -18 0zM474.2 949.8a9 9 0 1 0 18 0a9 9 0 1 0 -18 0zM476.7 959.5a9 9 0 1 0 18 0a9 9 0 1 0 -18 0zM479.2 967.1a9 9 0 1 0 18 0a9 9 0 1 0 -18 0zM481.6 973.4a9 9 0 1 0 18 0a9 9 0 1 0 -18 0zM484.1 978.5a9 9 0 1 0 18 0a9 9 0 1 0 -18 0zM486.6 983.2a9 9 0 1 0 18 0a9 9 0 1 0 -18 0zM489 986.9a9 9 0 1 0 18 0a9 9 0 1 0 -18 0zM491.5 989.9a9 9 0 1 0 18 0a9 9 0 1 0 -18 0zM494 992.4a9 9 0 1 0 18 0a9 9 0 1 0 -18 0zM496.5 994.6a9 9 0 1 0 18 0a9 9 0 1 0 -18 0zM498.9 996.4a9 9 0 1 0 18 0a9 9 0 1 0 -18 0zM501.4 997.9a9 9 0 1 0 18 0a9 9 0 1 0 -18 0zM503.9 999.2a9 9 0 1 0 18 0a9 9 0 1 0 -18 0zM506.3 1000.3a9 9 0 1 0 18 0a9 9 0 1 0 -18 0zM508.8 1001.4a9 9 0 1 0 18 0a9 9 0 1 0 -18 0zM511.3 1002.6a9 9 0 1 0 18 0a9 9 0 1 0 -18 0zM513.8 1003.8a9 9 0 1 0 18 0a9 9 0 1 0 -18 0zM516.2 1005a9 9 0 1 0 18 0a9 9 0 1 0 -18 0zM518.7 1006.2a9 9 0 1 0 18 0a9 9 0 1 0 -18 0zM521.2 1007.6a9 9 0 1 0 18 0a9 9 0 1 0 -18 0zM523.6 1009.1a9 9 0 1 0 18 0a9 9 0 1 0 -18 0zM526.1 1010.7a9 9 0 1 0 18 0a9 9 0 1 0 -18 0zM528.6 1012.5a9 9 0 1 0 18 0a9 9 0 1 0 -18 0zM531.1 1014.4a9 9 0 1 0 18 0a9 9 0 1 0 -18 0zM533.5 1016.8a9 9 0 1 0 18 0a9 9 0 1 0 -18 0zM536 1019.5a9 9 0 1 0 18 0a9 9 0 1 0 -18 0zM538.5 1022.3a9 9 0 1 0 18 0a9 9 0 1 0 -18 0zM540.9 1024.6a9 9 0 1 0 18 0a9 9 0 1 0 -18 0zM543.4 1026.6a9 9 0 1 0 18 0a9 9 0 1 0 -18 0zM545.9 1028.3a9 9 0 1 0 18 0a9 9 0 1 0 -18 0zM548.4 1030a9 9 0 1 0 18 0a9 9 0 1 0 -18 0zM550.8 1031.9a9 9 0 1 0 18 0a9 9 0 1 0 -18 0zM553.3 1034a9 9 0 1 0 18 0a9 9 0 1 0 -18 0zM555.8 1036.3a9 9 0 1 0 18 0a9 9 0 1 0 -18 0zM558.2 1038.5a9 9 0 1 0 18 0a9 9 0 1 0 -18 0zM560.7 1040.6a9 9 0 1 0 18 0a9 9 0 1 0 -18 0zM563.2 1042.5a9 9 0 1 0 18 0a9 9 0 1 0 -18 0zM565.6 1044.4a9 9 0 1 0 18 0a9 9 0 1 0 -18 0zM568.1 1046.3a9 9 0 1 0 18 0a9 9 0 1 0 -18 0zM570.6 1048.1a9 9 0 1 0 18 0a9 9 0 1 0 -18 0zM573.1 1049.8a9 9 0 1 0 18 0a9 9 0 1 0 -18 0zM575.5 1051.4a9 9 0 1 0 18 0a9 9 0 1 0 -18 0zM578 1052.9a9 9 0 1 0 18 0a9 9 0 1 0 -18 0zM580.5 1054.2a9 9 0 1 0 18 0a9 9 0 1 0 -18 0zM582.9 1055.3a9 9 0 1 0 18 0a9 9 0 1 0 -18 0zM585.4 1056.3a9 9 0 1 0 18 0a9 9 0 1 0 -18 0zM587.9 1057.3a9 9 0 1 0 18 0a9 9 0 1 0 -18 0zM590.4 1058.2a9 9 0 1 0 18 0a9 9 0 1 0 -18 0zM592.8 1059a9 9 0 1 0 18 0a9 9 0 1 0 -18 0zM595.3 1059.8a9 9 0 1 0 18 0a9 9 0 1 0 -18 0zM597.8 1060.7a9 9 0 1 0 18 0a9 9 0 1 0 -18 0zM600.2 1061.6a9 9 0 1 0 18 0a9 9 0 1 0 -18 0zM602.7 1062.5a9 9 0 1 0 18 0a9 9 0 1 0 -18 0zM605.2 1063.4a9 9 0 1 0 18 0a9 9 0 1 0 -18 0zM607.7 1064.3a9 9 0 1 0 18 0a9 9 0 1 0 -18 0zM610.1 1065.2a9 9 0 1 0 18 0a9 9 0 1 0 -18 0zM612.6 1066.1a9 9 0 1 0 18 0a9 9 0 1 0 -18 0zM615.1 1067a9 9 0 1 0 18 0a9 9 0 1 0 -18 0zM617.5 1068a9 9 0 1 0 18 0a9 9 0 1 0 -18 0zM620 1068.9a9 9 0 1 0 18 0a9 9 0 1 0 -18 0zM622.5 1069.9a9 9 0 1 0 18 0a9 9 0 1 0 -18 0zM625 1071a9 9 0 1 0 18 0a9 9 0 1 0 -18 0zM627.4 1072.1a9 9 0 1 0 18 0a9 9 0 1 0 -18 0zM629.9 1073.2a9 9 0 1 0 18 0a9 9 0 1 0 -18 0zM632.4 1074.3a9 9 0 1 0 18 0a9 9 0 1 0 -18 0zM634.8 1075.4a9 9 0 1 0 18 0a9 9 0 1 0 -18 0zM637.3 1076.5a9 9 0 1 0 18 0a9 9 0 1 0 -18 0zM639.8 1077.5a9 9 0 1 0 18 0a9 9 0 1 0 -18 0zM642.2 1078.5a9 9 0 1 0 18 0a9 9 0 1 0 -18 0zM644.7 1079.5a9 9 0 1 0 18 0a9 9 0 1 0 -18 0zM647.2 1080.4a9 9 0 1 0 18 0a9 9 0 1 0 -18 0zM649.7 1081.3a9 9 0 1 0 18 0a9 9 0 1 0 -18 0zM652.1 1082.2a9 9 0 1 0 18 0a9 9 0 1 0 -18 0zM654.6 1083.1a9 9 0 1 0 18 0a9 9 0 1 0 -18 0zM657.1 1084a9 9 0 1 0 18 0a9 9 0 1 0 -18 0zM659.5 1084.9a9 9 0 1 0 18 0a9 9 0 1 0 -18 0zM662 1085.9a9 9 0 1 0 18 0a9 9 0 1 0 -18 0zM664.5 1087a9 9 0 1 0 18 0a9 9 0 1 0 -18 0zM667 1088a9 9 0 1 0 18 0a9 9 0 1 0 -18 0zM669.4 1089.1a9 9 0 1 0 18 0a9 9 0 1 0 -18 0zM671.9 1090.1a9 9 0 1 0 18 0a9 9 0 1 0 -18 0zM674.4 1091a9 9 0 1 0 18 0a9 9 0 1 0 -18 0zM676.8 1091.9a9 9 0 1 0 18 0a9 9 0 1 0 -18 0zM679.3 1092.8a9 9 0 1 0 18 0a9 9 0 1 0 -18 0zM681.8 1093.4a9 9 0 1 0 18 0a9 9 0 1 0 -18 0zM684.3 1093.2a9 9 0 1 0 18 0a9 9 0 1 0 -18 0zM686.7 1091.3a9 9 0 1 0 18 0a9 9 0 1 0 -18 0zM689.2 1089.1a9 9 0 1 0 18 0a9 9 0 1 0 -18 0zM691.7 1086.8a9 9 0 1 0 18 0a9 9 0 1 0 -18 0zM694.1 1084.3a9 9 0 1 0 18 0a9 9 0 1 0 -18 0zM696.6 1082.6a9 9 0 1 0 18 0a9 9 0 1 0 -18 0zM699.1 1082.3a9 9 0 1 0 18 0a9 9 0 1 0 -18 0zM701.6 1082.5a9 9 0 1 0 18 0a9 9 0 1 0 -18 0zM704 1082.8a9 9 0 1 0 18 0a9 9 0 1 0 -18 0zM706.5 1083.2a9 9 0 1 0 18 0a9 9 0 1 0 -18 0zM709 1083.8a9 9 0 1 0 18 0a9 9 0 1 0 -18 0zM711.4 1084.4a9 9 0 1 0 18 0a9 9 0 1 0 -18 0zM713.9 1085a9 9 0 1 0 18 0a9 9 0 1 0 -18 0zM716.4 1085.6a9 9 0 1 0 18 0a9 9 0 1 0 -18 0zM718.9 1086.2a9 9 0 1 0 18 0a9 9 0 1 0 -18 0zM721.3 1086.8a9 9 0 1 0 18 0a9 9 0 1 0 -18 0zM723.8 1087.4a9 9 0 1 0 18 0a9 9 0 1 0 -18 0zM726.3 1088a9 9 0 1 0 18 0a9 9 0 1 0 -18 0zM728.7 1088.7a9 9 0 1 0 18 0a9 9 0 1 0 -18 0zM731.2 1089.4a9 9 0 1 0 18 0a9 9 0 1 0 -18 0zM733.7 1090a9 9 0 1 0 18 0a9 9 0 1 0 -18 0zM736.1 1090.7a9 9 0 1 0 18 0a9 9 0 1 0 -18 0zM738.6 1091.2a9 9 0 1 0 18 0a9 9 0 1 0 -18 0zM741.1 1091.7a9 9 0 1 0 18 0a9 9 0 1 0 -18 0zM743.6 1092a9 9 0 1 0 18 0a9 9 0 1 0 -18 0zM746 1092.4a9 9 0 1 0 18 0a9 9 0 1 0 -18 0zM748.5 1092.7a9 9 0 1 0 18 0a9 9 0 1 0 -18 0zM751 1092.9a9 9 0 1 0 18 0a9 9 0 1 0 -18 0zM753.4 1093.2a9 9 0 1 0 18 0a9 9 0 1 0 -18 0zM755.9 1093.5a9 9 0 1 0 18 0a9 9 0 1 0 -18 0zM758.4 1093.8a9 9 0 1 0 18 0a9 9 0 1 0 -18 0zM760.9 1094.1a9 9 0 1 0 18 0a9 9 0 1 0 -18 0zM763.3 1094.5a9 9 0 1 0 18 0a9 9 0 1 0 -18 0zM765.8 1095a9 9 0 1 0 18 0a9 9 0 1 0 -18 0zM768.3 1095.6a9 9 0 1 0 18 0a9 9 0 1 0 -18 0zM770.7 1096.1a9 9 0 1 0 18 0a9 9 0 1 0 -18 0zM773.2 1096.7a9 9 0 1 0 18 0a9 9 0 1 0 -18 0zM775.7 1097.2a9 9 0 1 0 18 0a9 9 0 1 0 -18 0zM778.2 1097.6a9 9 0 1 0 18 0a9 9 0 1 0 -18 0zM780.6 1097.9a9 9 0 1 0 18 0a9 9 0 1 0 -18 0zM783.1 1098.1a9 9 0 1 0 18 0a9 9 0 1 0 -18 0zM785.6 1098.2a9 9 0 1 0 18 0a9 9 0 1 0 -18 0zM788 1098.4a9 9 0 1 0 18 0a9 9 0 1 0 -18 0zM790.5 1098.5a9 9 0 1 0 18 0a9 9 0 1 0 -18 0zM793 1098.6a9 9 0 1 0 18 0a9 9 0 1 0 -18 0zM795.5 1098.8a9 9 0 1 0 18 0a9 9 0 1 0 -18 0zM797.9 1098.9a9 9 0 1 0 18 0a9 9 0 1 0 -18 0zM800.4 1099.1a9 9 0 1 0 18 0a9 9 0 1 0 -18 0zM802.9 1099.3a9 9 0 1 0 18 0a9 9 0 1 0 -18 0zM805.3 1099.6a9 9 0 1 0 18 0a9 9 0 1 0 -18 0zM807.8 1099.9a9 9 0 1 0 18 0a9 9 0 1 0 -18 0zM810.3 1100.2a9 9 0 1 0 18 0a9 9 0 1 0 -18 0zM812.7 1100.5a9 9 0 1 0 18 0a9 9 0 1 0 -18 0zM815.2 1100.8a9 9 0 1 0 18 0a9 9 0 1 0 -18 0zM817.7 1101.2a9 9 0 1 0 18 0a9 9 0 1 0 -18 0zM820.2 1101.5a9 9 0 1 0 18 0a9 9 0 1 0 -18 0zM822.6 1101.8a9 9 0 1 0 18 0a9 9 0 1 0 -18 0zM825.1 1102.2a9 9 0 1 0 18 0a9 9 0 1 0 -18 0zM827.6 1102.6a9 9 0 1 0 18 0a9 9 0 1 0 -18 0zM830 1102.9a9 9 0 1 0 18 0a9 9 0 1 0 -18 0zM832.5 1103.3a9 9 0 1 0 18 0a9 9 0 1 0 -18 0zM835 1103.7a9 9 0 1 0 18 0a9 9 0 1 0 -18 0zM837.5 1104.1a9 9 0 1 0 18 0a9 9 0 1 0 -18 0zM839.9 1104.5a9 9 0 1 0 18 0a9 9 0 1 0 -18 0zM842.4 1104.9a9 9 0 1 0 18 0a9 9 0 1 0 -18 0zM844.9 1105.3a9 9 0 1 0 18 0a9 9 0 1 0 -18 0zM847.3 1105.7a9 9 0 1 0 18 0a9 9 0 1 0 -18 0zM849.8 1106.1a9 9 0 1 0 18 0a9 9 0 1 0 -18 0zM852.3 1106.5a9 9 0 1 0 18 0a9 9 0 1 0 -18 0zM854.8 1106.9a9 9 0 1 0 18 0a9 9 0 1 0 -18 0zM857.2 1107.3a9 9 0 1 0 18 0a9 9 0 1 0 -18 0zM859.7 1107.6a9 9 0 1 0 18 0a9 9 0 1 0 -18 0zM862.2 1108a9 9 0 1 0 18 0a9 9 0 1 0 -18 0zM864.6 1108.3a9 9 0 1 0 18 0a9 9 0 1 0 -18 0zM867.1 1108.7a9 9 0 1 0 18 0a9 9 0 1 0 -18 0zM869.6 1109a9 9 0 1 0 18 0a9 9 0 1 0 -18 0zM872.1 1109.3a9 9 0 1 0 18 0a9 9 0 1 0 -18 0zM874.5 1109.6a9 9 0 1 0 18 0a9 9 0 1 0 -18 0zM877 1109.9a9 9 0 1 0 18 0a9 9 0 1 0 -18 0zM879.5 1110.2a9 9 0 1 0 18 0a9 9 0 1 0 -18 0zM881.9 1110.5a9 9 0 1 0 18 0a9 9 0 1 0 -18 0zM884.4 1110.8a9 9 0 1 0 18 0a9 9 0 1 0 -18 0zM886.9 1111.1a9 9 0 1 0 18 0a9 9 0 1 0 -18 0zM889.4 1111.4a9 9 0 1 0 18 0a9 9 0 1 0 -18 0zM891.8 1111.7a9 9 0 1 0 18 0a9 9 0 1 0 -18 0zM894.3 1112a9 9 0 1 0 18 0a9 9 0 1 0 -18 0zM896.8 1112.3a9 9 0 1 0 18 0a9 9 0 1 0 -18 0zM899.2 1112.6a9 9 0 1 0 18 0a9 9 0 1 0 -18 0zM901.7 1112.9a9 9 0 1 0 18 0a9 9 0 1 0 -18 0zM904.2 1113.2a9 9 0 1 0 18 0a9 9 0 1 0 -18 0zM906.6 1113.5a9 9 0 1 0 18 0a9 9 0 1 0 -18 0zM909.1 1113.8a9 9 0 1 0 18 0a9 9 0 1 0 -18 0zM911.6 1114.1a9 9 0 1 0 18 0a9 9 0 1 0 -18 0zM914.1 1114.3a9 9 0 1 0 18 0a9 9 0 1 0 -18 0zM916.5 1114.6a9 9 0 1 0 18 0a9 9 0 1 0 -18 0zM919 1114.9a9 9 0 1 0 18 0a9 9 0 1 0 -18 0zM921.5 1115.2a9 9 0 1 0 18 0a9 9 0 1 0 -18 0zM923.9 1115.5a9 9 0 1 0 18 0a9 9 0 1 0 -18 0zM926.4 1115.8a9 9 0 1 0 18 0a9 9 0 1 0 -18 0zM928.9 1116a9 9 0 1 0 18 0a9 9 0 1 0 -18 0zM931.4 1116.3a9 9 0 1 0 18 0a9 9 0 1 0 -18 0zM933.8 1116.6a9 9 0 1 0 18 0a9 9 0 1 0 -18 0zM936.3 1116.8a9 9 0 1 0 18 0a9 9 0 1 0 -18 0zM938.8 1117.1a9 9 0 1 0 18 0a9 9 0 1 0 -18 0zM941.2 1117.3a9 9 0 1 0 18 0a9 9 0 1 0 -18 0zM943.7 1117.5a9 9 0 1 0 18 0a9 9 0 1 0 -18 0zM946.2 1117.8a9 9 0 1 0 18 0a9 9 0 1 0 -18 0zM948.7 1118a9 9 0 1 0 18 0a9 9 0 1 0 -18 0zM951.1 1118.2a9 9 0 1 0 18 0a9 9 0 1 0 -18 0zM953.6 1118.5a9 9 0 1 0 18 0a9 9 0 1 0 -18 0zM956.1 1118.7a9 9 0 1 0 18 0a9 9 0 1 0 -18 0zM958.5 1118.9a9 9 0 1 0 18 0a9 9 0 1 0 -18 0zM961 1119.1a9 9 0 1 0 18 0a9 9 0 1 0 -18 0zM963.5 1119.3a9 9 0 1 0 18 0a9 9 0 1 0 -18 0zM966 1119.5a9 9 0 1 0 18 0a9 9 0 1 0 -18 0zM968.4 1119.7a9 9 0 1 0 18 0a9 9 0 1 0 -18 0zM970.9 1119.9a9 9 0 1 0 18 0a9 9 0 1 0 -18 0zM973.4 1120.1a9 9 0 1 0 18 0a9 9 0 1 0 -18 0zM975.8 1120.3a9 9 0 1 0 18 0a9 9 0 1 0 -18 0zM978.3 1120.5a9 9 0 1 0 18 0a9 9 0 1 0 -18 0zM980.8 1120.6a9 9 0 1 0 18 0a9 9 0 1 0 -18 0zM983.2 1120.8a9 9 0 1 0 18 0a9 9 0 1 0 -18 0zM985.7 1121a9 9 0 1 0 18 0a9 9 0 1 0 -18 0zM988.2 1121.1a9 9 0 1 0 18 0a9 9 0 1 0 -18 0zM990.7 1121.3a9 9 0 1 0 18 0a9 9 0 1 0 -18 0zM993.1 1121.5a9 9 0 1 0 18 0a9 9 0 1 0 -18 0zM995.6 1121.6a9 9 0 1 0 18 0a9 9 0 1 0 -18 0zM998.1 1121.8a9 9 0 1 0 18 0a9 9 0 1 0 -18 0zM1000.5 1121.9a9 9 0 1 0 18 0a9 9 0 1 0 -18 0zM1003 1122.1a9 9 0 1 0 18 0a9 9 0 1 0 -18 0zM1005.5 1122.2a9 9 0 1 0 18 0a9 9 0 1 0 -18 0zM1008 1122.3a9 9 0 1 0 18 0a9 9 0 1 0 -18 0zM1010.4 1122.5a9 9 0 1 0 18 0a9 9 0 1 0 -18 0zM1012.9 1122.6a9 9 0 1 0 18 0a9 9 0 1 0 -18 0zM1015.4 1122.7a9 9 0 1 0 18 0a9 9 0 1 0 -18 0zM1017.8 1122.9a9 9 0 1 0 18 0a9 9 0 1 0 -18 0zM1020.3 1123a9 9 0 1 0 18 0a9 9 0 1 0 -18 0zM1022.8 1123.1a9 9 0 1 0 18 0a9 9 0 1 0 -18 0zM1025.3 1123.2a9 9 0 1 0 18 0a9 9 0 1 0 -18 0zM1027.7 1123.4a9 9 0 1 0 18 0a9 9 0 1 0 -18 0zM1030.2 1123.5a9 9 0 1 0 18 0a9 9 0 1 0 -18 0zM1032.7 1123.6a9 9 0 1 0 18 0a9 9 0 1 0 -18 0zM1035.1 1123.8a9 9 0 1 0 18 0a9 9 0 1 0 -18 0zM1037.6 1123.9a9 9 0 1 0 18 0a9 9 0 1 0 -18 0zM1040.1 1124a9 9 0 1 0 18 0a9 9 0 1 0 -18 0zM1042.6 1124.1a9 9 0 1 0 18 0a9 9 0 1 0 -18 0zM1045 1124.3a9 9 0 1 0 18 0a9 9 0 1 0 -18 0zM1047.5 1124.4a9 9 0 1 0 18 0a9 9 0 1 0 -18 0zM1050 1124.4a9 9 0 1 0 18 0a9 9 0 1 0 -18 0zM1052.4 1124.5a9 9 0 1 0 18 0a9 9 0 1 0 -18 0zM1054.9 1124.6a9 9 0 1 0 18 0a9 9 0 1 0 -18 0zM1057.4 1124.6a9 9 0 1 0 18 0a9 9 0 1 0 -18 0zM1059.8 1124.6a9 9 0 1 0 18 0a9 9 0 1 0 -18 0zM1062.3 1124.6a9 9 0 1 0 18 0a9 9 0 1 0 -18 0zM1064.8 1124.6a9 9 0 1 0 18 0a9 9 0 1 0 -18 0zM1067.3 1124.6a9 9 0 1 0 18 0a9 9 0 1 0 -18 0zM1069.7 1124.6a9 9 0 1 0 18 0a9 9 0 1 0 -18 0zM1072.2 1124.6a9 9 0 1 0 18 0a9 9 0 1 0 -18 0zM1074.7 1124.6a9 9 0 1 0 18 0a9 9 0 1 0 -18 0zM1077.1 1124.6a9 9 0 1 0 18 0a9 9 0 1 0 -18 0zM1079.6 1124.6a9 9 0 1 0 18 0a9 9 0 1 0 -18 0zM1082.1 1124.6a9 9 0 1 0 18 0a9 9 0 1 0 -18 0zM1084.6 1124.6a9 9 0 1 0 18 0a9 9 0 1 0 -18 0zM1087 1124.6a9 9 0 1 0 18 0a9 9 0 1 0 -18 0zM1089.5 1124.6a9 9 0 1 0 18 0a9 9 0 1 0 -18 0zM1092 1124.6a9 9 0 1 0 18 0a9 9 0 1 0 -18 0zM1094.4 1124.6a9 9 0 1 0 18 0a9 9 0 1 0 -18 0zM1096.9 1124.6a9 9 0 1 0 18 0a9 9 0 1 0 -18 0zM1099.4 1124.6a9 9 0 1 0 18 0a9 9 0 1 0 -18 0zM1101.9 1124.6a9 9 0 1 0 18 0a9 9 0 1 0 -18 0zM1104.3 1124.6a9 9 0 1 0 18 0a9 9 0 1 0 -18 0zM1106.8 1124.6a9 9 0 1 0 18 0a9 9 0 1 0 -18 0zM1109.3 1124.6a9 9 0 1 0 18 0a9 9 0 1 0 -18 0zM1111.7 1124.6a9 9 0 1 0 18 0a9 9 0 1 0 -18 0zM1114.2 1124.6a9 9 0 1 0 18 0a9 9 0 1 0 -18 0zM1116.7 1124.6a9 9 0 1 0 18 0a9 9 0 1 0 -18 0zM1119.2 1124.6a9 9 0 1 0 18 0a9 9 0 1 0 -18 0zM1121.6 1124.6a9 9 0 1 0 18 0a9 9 0 1 0 -18 0zM1124.1 1124.6a9 9 0 1 0 18 0a9 9 0 1 0 -18 0zM1126.6 1124.6a9 9 0 1 0 18 0a9 9 0 1 0 -18 0zM1129 1124.6a9 9 0 1 0 18 0a9 9 0 1 0 -18 0zM1131.5 1124.6a9 9 0 1 0 18 0a9 9 0 1 0 -18 0zM1134 1124.6a9 9 0 1 0 18 0a9 9 0 1 0 -18 0zM1136.5 1124.6a9 9 0 1 0 18 0a9 9 0 1 0 -18 0zM1138.9 1124.6a9 9 0 1 0 18 0a9 9 0 1 0 -18 0zM1141.4 1124.6a9 9 0 1 0 18 0a9 9 0 1 0 -18 0zM1143.9 1124.6a9 9 0 1 0 18 0a9 9 0 1 0 -18 0zM1146.3 1124.6a9 9 0 1 0 18 0a9 9 0 1 0 -18 0zM1148.8 1124.6a9 9 0 1 0 18 0a9 9 0 1 0 -18 0zM1151.3 1124.6a9 9 0 1 0 18 0a9 9 0 1 0 -18 0zM1153.7 1124.5a9 9 0 1 0 18 0a9 9 0 1 0 -18 0zM1156.2 1124.5a9 9 0 1 0 18 0a9 9 0 1 0 -18 0zM1158.7 1124.5a9 9 0 1 0 18 0a9 9 0 1 0 -18 0zM1161.2 1124.4a9 9 0 1 0 18 0a9 9 0 1 0 -18 0zM1163.6 1124.4a9 9 0 1 0 18 0a9 9 0 1 0 -18 0zM1166.1 1124.3a9 9 0 1 0 18 0a9 9 0 1 0 -18 0zM1168.6 1124.3a9 9 0 1 0 18 0a9 9 0 1 0 -18 0zM1171 1124.2a9 9 0 1 0 18 0a9 9 0 1 0 -18 0zM1173.5 1124.2a9 9 0 1 0 18 0a9 9 0 1 0 -18 0zM1176 1124.1a9 9 0 1 0 18 0a9 9 0 1 0 -18 0zM1178.5 1124.1a9 9 0 1 0 18 0a9 9 0 1 0 -18 0zM1180.9 1124a9 9 0 1 0 18 0a9 9 0 1 0 -18 0zM1183.4 1123.9a9 9 0 1 0 18 0a9 9 0 1 0 -18 0zM1185.9 1123.9a9 9 0 1 0 18 0a9 9 0 1 0 -18 0zM1188.3 1123.8a9 9 0 1 0 18 0a9 9 0 1 0 -18 0zM1190.8 1123.7a9 9 0 1 0 18 0a9 9 0 1 0 -18 0zM1193.3 1123.6a9 9 0 1 0 18 0a9 9 0 1 0 -18 0zM1195.8 1123.5a9 9 0 1 0 18 0a9 9 0 1 0 -18 0zM1198.2 1123.4a9 9 0 1 0 18 0a9 9 0 1 0 -18 0zM1200.7 1123.2a9 9 0 1 0 18 0a9 9 0 1 0 -18 0zM1203.2 1123.1a9 9 0 1 0 18 0a9 9 0 1 0 -18 0zM1205.6 1123a9 9 0 1 0 18 0a9 9 0 1 0 -18 0zM1208.1 1122.8a9 9 0 1 0 18 0a9 9 0 1 0 -18 0zM1210.6 1122.7a9 9 0 1 0 18 0a9 9 0 1 0 -18 0zM1213.1 1122.5a9 9 0 1 0 18 0a9 9 0 1 0 -18 0zM1215.5 1122.4a9 9 0 1 0 18 0a9 9 0 1 0 -18 0zM1218 1122.2a9 9 0 1 0 18 0a9 9 0 1 0 -18 0zM1220.5 1122a9 9 0 1 0 18 0a9 9 0 1 0 -18 0zM1222.9 1121.9a9 9 0 1 0 18 0a9 9 0 1 0 -18 0zM1225.4 1121.7a9 9 0 1 0 18 0a9 9 0 1 0 -18 0zM1227.9 1121.6a9 9 0 1 0 18 0a9 9 0 1 0 -18 0zM1230.3 1121.4a9 9 0 1 0 18 0a9 9 0 1 0 -18 0zM1232.8 1121.3a9 9 0 1 0 18 0a9 9 0 1 0 -18 0zM1235.3 1121.1a9 9 0 1 0 18 0a9 9 0 1 0 -18 0zM1237.8 1121a9 9 0 1 0 18 0a9 9 0 1 0 -18 0zM1240.2 1120.8a9 9 0 1 0 18 0a9 9 0 1 0 -18 0zM1242.7 1120.7a9 9 0 1 0 18 0a9 9 0 1 0 -18 0zM1245.2 1120.5a9 9 0 1 0 18 0a9 9 0 1 0 -18 0zM1247.6 1120.4a9 9 0 1 0 18 0a9 9 0 1 0 -18 0zM1250.1 1120.3a9 9 0 1 0 18 0a9 9 0 1 0 -18 0zM1252.6 1120.1a9 9 0 1 0 18 0a9 9 0 1 0 -18 0zM1255.1 1120a9 9 0 1 0 18 0a9 9 0 1 0 -18 0zM1257.5 1119.8a9 9 0 1 0 18 0a9 9 0 1 0 -18 0zM1260 1119.7a9 9 0 1 0 18 0a9 9 0 1 0 -18 0zM1262.5 1119.6a9 9 0 1 0 18 0a9 9 0 1 0 -18 0zM1264.9 1119.4a9 9 0 1 0 18 0a9 9 0 1 0 -18 0zM1267.4 1119.3a9 9 0 1 0 18 0a9 9 0 1 0 -18 0zM1269.9 1119.1a9 9 0 1 0 18 0a9 9 0 1 0 -18 0zM1272.4 1119a9 9 0 1 0 18 0a9 9 0 1 0 -18 0zM1274.8 1118.9a9 9 0 1 0 18 0a9 9 0 1 0 -18 0zM1277.3 1118.7a9 9 0 1 0 18 0a9 9 0 1 0 -18 0zM1279.8 1118.6a9 9 0 1 0 18 0a9 9 0 1 0 -18 0zM1282.2 1118.4a9 9 0 1 0 18 0a9 9 0 1 0 -18 0zM1284.7 1118.2a9 9 0 1 0 18 0a9 9 0 1 0 -18 0zM1287.2 1118.1a9 9 0 1 0 18 0a9 9 0 1 0 -18 0zM1289.7 1117.9a9 9 0 1 0 18 0a9 9 0 1 0 -18 0zM1292.1 1117.8a9 9 0 1 0 18 0a9 9 0 1 0 -18 0zM1294.6 1117.6a9 9 0 1 0 18 0a9 9 0 1 0 -18 0zM1297.1 1117.4a9 9 0 1 0 18 0a9 9 0 1 0 -18 0zM1299.5 1117.3a9 9 0 1 0 18 0a9 9 0 1 0 -18 0zM1302 1117.1a9 9 0 1 0 18 0a9 9 0 1 0 -18 0zM1304.5 1116.9a9 9 0 1 0 18 0a9 9 0 1 0 -18 0zM1306.9 1116.7a9 9 0 1 0 18 0a9 9 0 1 0 -18 0zM1309.4 1116.5a9 9 0 1 0 18 0a9 9 0 1 0 -18 0zM1311.9 1116.3a9 9 0 1 0 18 0a9 9 0 1 0 -18 0zM1314.4 1116.1a9 9 0 1 0 18 0a9 9 0 1 0 -18 0zM1316.8 1115.9a9 9 0 1 0 18 0a9 9 0 1 0 -18 0zM1319.3 1115.7a9 9 0 1 0 18 0a9 9 0 1 0 -18 0zM1321.8 1115.5a9 9 0 1 0 18 0a9 9 0 1 0 -18 0zM1324.2 1115.3a9 9 0 1 0 18 0a9 9 0 1 0 -18 0zM1326.7 1115a9 9 0 1 0 18 0a9 9 0 1 0 -18 0zM1329.2 1114.8a9 9 0 1 0 18 0a9 9 0 1 0 -18 0zM1331.7 1114.6a9 9 0 1 0 18 0a9 9 0 1 0 -18 0zM1334.1 1114.4a9 9 0 1 0 18 0a9 9 0 1 0 -18 0zM1336.6 1114.1a9 9 0 1 0 18 0a9 9 0 1 0 -18 0zM1339.1 1113.9a9 9 0 1 0 18 0a9 9 0 1 0 -18 0zM1341.5 1113.7a9 9 0 1 0 18 0a9 9 0 1 0 -18 0zM1344 1113.4a9 9 0 1 0 18 0a9 9 0 1 0 -18 0zM1346.5 1113.2a9 9 0 1 0 18 0a9 9 0 1 0 -18 0zM1349 1112.9a9 9 0 1 0 18 0a9 9 0 1 0 -18 0zM1351.4 1112.7a9 9 0 1 0 18 0a9 9 0 1 0 -18 0zM1353.9 1112.5a9 9 0 1 0 18 0a9 9 0 1 0 -18 0zM1356.4 1112.2a9 9 0 1 0 18 0a9 9 0 1 0 -18 0zM1358.8 1112a9 9 0 1 0 18 0a9 9 0 1 0 -18 0zM1361.3 1111.8a9 9 0 1 0 18 0a9 9 0 1 0 -18 0zM1363.8 1111.6a9 9 0 1 0 18 0a9 9 0 1 0 -18 0zM1366.3 1111.3a9 9 0 1 0 18 0a9 9 0 1 0 -18 0zM1368.7 1111.1a9 9 0 1 0 18 0a9 9 0 1 0 -18 0zM1371.2 1110.9a9 9 0 1 0 18 0a9 9 0 1 0 -18 0zM1373.7 1110.6a9 9 0 1 0 18 0a9 9 0 1 0 -18 0zM1376.1 1110.4a9 9 0 1 0 18 0a9 9 0 1 0 -18 0zM1378.6 1110.2a9 9 0 1 0 18 0a9 9 0 1 0 -18 0zM1381.1 1109.9a9 9 0 1 0 18 0a9 9 0 1 0 -18 0zM1383.6 1109.7a9 9 0 1 0 18 0a9 9 0 1 0 -18 0zM1386 1109.5a9 9 0 1 0 18 0a9 9 0 1 0 -18 0zM1388.5 1109.2a9 9 0 1 0 18 0a9 9 0 1 0 -18 0zM1391 1109a9 9 0 1 0 18 0a9 9 0 1 0 -18 0zM1393.4 1108.7a9 9 0 1 0 18 0a9 9 0 1 0 -18 0zM1395.9 1108.5a9 9 0 1 0 18 0a9 9 0 1 0 -18 0zM1398.4 1108.3a9 9 0 1 0 18 0a9 9 0 1 0 -18 0zM1400.8 1108a9 9 0 1 0 18 0a9 9 0 1 0 -18 0zM1403.3 1107.8a9 9 0 1 0 18 0a9 9 0 1 0 -18 0zM1405.8 1107.5a9 9 0 1 0 18 0a9 9 0 1 0 -18 0zM1408.3 1107.3a9 9 0 1 0 18 0a9 9 0 1 0 -18 0zM1410.7 1107a9 9 0 1 0 18 0a9 9 0 1 0 -18 0zM1413.2 1106.8a9 9 0 1 0 18 0a9 9 0 1 0 -18 0zM1415.7 1106.5a9 9 0 1 0 18 0a9 9 0 1 0 -18 0zM1418.1 1106.3a9 9 0 1 0 18 0a9 9 0 1 0 -18 0zM1420.6 1106a9 9 0 1 0 18 0a9 9 0 1 0 -18 0zM1423.1 1105.7a9 9 0 1 0 18 0a9 9 0 1 0 -18 0zM1425.6 1105.5a9 9 0 1 0 18 0a9 9 0 1 0 -18 0zM1428 1105.2a9 9 0 1 0 18 0a9 9 0 1 0 -18 0zM1430.5 1105a9 9 0 1 0 18 0a9 9 0 1 0 -18 0zM1433 1104.7a9 9 0 1 0 18 0a9 9 0 1 0 -18 0zM1435.4 1104.4a9 9 0 1 0 18 0a9 9 0 1 0 -18 0zM1437.9 1104.2a9 9 0 1 0 18 0a9 9 0 1 0 -18 0zM1440.4 1103.9a9 9 0 1 0 18 0a9 9 0 1 0 -18 0zM1442.9 1103.6a9 9 0 1 0 18 0a9 9 0 1 0 -18 0zM1445.3 1103.4a9 9 0 1 0 18 0a9 9 0 1 0 -18 0zM1447.8 1103.1a9 9 0 1 0 18 0a9 9 0 1 0 -18 0zM1450.3 1102.8a9 9 0 1 0 18 0a9 9 0 1 0 -18 0zM1452.7 1102.5a9 9 0 1 0 18 0a9 9 0 1 0 -18 0zM1455.2 1102.3a9 9 0 1 0 18 0a9 9 0 1 0 -18 0zM1457.7 1102a9 9 0 1 0 18 0a9 9 0 1 0 -18 0zM1460.2 1101.7a9 9 0 1 0 18 0a9 9 0 1 0 -18 0zM1462.6 1101.4a9 9 0 1 0 18 0a9 9 0 1 0 -18 0zM1465.1 1101.1a9 9 0 1 0 18 0a9 9 0 1 0 -18 0zM1467.6 1100.8a9 9 0 1 0 18 0a9 9 0 1 0 -18 0zM1470 1100.5a9 9 0 1 0 18 0a9 9 0 1 0 -18 0zM1472.5 1100.2a9 9 0 1 0 18 0a9 9 0 1 0 -18 0zM1475 1099.9a9 9 0 1 0 18 0a9 9 0 1 0 -18 0zM1477.4 1099.6a9 9 0 1 0 18 0a9 9 0 1 0 -18 0zM1479.9 1099.3a9 9 0 1 0 18 0a9 9 0 1 0 -18 0zM1482.4 1098.9a9 9 0 1 0 18 0a9 9 0 1 0 -18 0zM1484.9 1098.6a9 9 0 1 0 18 0a9 9 0 1 0 -18 0zM1487.3 1098.3a9 9 0 1 0 18 0a9 9 0 1 0 -18 0zM1489.8 1097.9a9 9 0 1 0 18 0a9 9 0 1 0 -18 0zM1492.3 1097.6a9 9 0 1 0 18 0a9 9 0 1 0 -18 0zM1494.7 1097.2a9 9 0 1 0 18 0a9 9 0 1 0 -18 0zM1497.2 1096.9a9 9 0 1 0 18 0a9 9 0 1 0 -18 0zM1499.7 1096.5a9 9 0 1 0 18 0a9 9 0 1 0 -18 0zM1502.2 1096.2a9 9 0 1 0 18 0a9 9 0 1 0 -18 0zM1504.6 1095.8a9 9 0 1 0 18 0a9 9 0 1 0 -18 0zM1507.1 1095.4a9 9 0 1 0 18 0a9 9 0 1 0 -18 0zM1509.6 1095a9 9 0 1 0 18 0a9 9 0 1 0 -18 0zM1512 1094.7a9 9 0 1 0 18 0a9 9 0 1 0 -18 0zM1514.5 1094.3a9 9 0 1 0 18 0a9 9 0 1 0 -18 0zM1517 1093.9a9 9 0 1 0 18 0a9 9 0 1 0 -18 0zM1519.5 1093.5a9 9 0 1 0 18 0a9 9 0 1 0 -18 0zM1521.9 1093.1a9 9 0 1 0 18 0a9 9 0 1 0 -18 0zM1524.4 1092.7a9 9 0 1 0 18 0a9 9 0 1 0 -18 0zM1526.9 1092.3a9 9 0 1 0 18 0a9 9 0 1 0 -18 0zM1529.3 1091.9a9 9 0 1 0 18 0a9 9 0 1 0 -18 0zM1531.8 1091.5a9 9 0 1 0 18 0a9 9 0 1 0 -18 0zM1534.3 1091.1a9 9 0 1 0 18 0a9 9 0 1 0 -18 0zM1536.8 1090.8a9 9 0 1 0 18 0a9 9 0 1 0 -18 0zM1539.2 1090.4a9 9 0 1 0 18 0a9 9 0 1 0 -18 0zM1541.7 1090a9 9 0 1 0 18 0a9 9 0 1 0 -18 0zM1544.2 1089.6a9 9 0 1 0 18 0a9 9 0 1 0 -18 0zM1546.6 1089.2a9 9 0 1 0 18 0a9 9 0 1 0 -18 0zM1549.1 1088.8a9 9 0 1 0 18 0a9 9 0 1 0 -18 0zM1551.6 1088.4a9 9 0 1 0 18 0a9 9 0 1 0 -18 0zM1554 1088a9 9 0 1 0 18 0a9 9 0 1 0 -18 0zM1556.5 1087.6a9 9 0 1 0 18 0a9 9 0 1 0 -18 0zM1559 1087.2a9 9 0 1 0 18 0a9 9 0 1 0 -18 0zM1561.5 1086.8a9 9 0 1 0 18 0a9 9 0 1 0 -18 0zM1563.9 1086.4a9 9 0 1 0 18 0a9 9 0 1 0 -18 0zM1566.4 1086a9 9 0 1 0 18 0a9 9 0 1 0 -18 0zM1568.9 1085.6a9 9 0 1 0 18 0a9 9 0 1 0 -18 0zM1571.3 1085.2a9 9 0 1 0 18 0a9 9 0 1 0 -18 0zM1573.8 1084.8a9 9 0 1 0 18 0a9 9 0 1 0 -18 0zM1576.3 1084.4a9 9 0 1 0 18 0a9 9 0 1 0 -18 0zM1578.8 1083.9a9 9 0 1 0 18 0a9 9 0 1 0 -18 0zM1581.2 1083.5a9 9 0 1 0 18 0a9 9 0 1 0 -18 0zM1583.7 1083.1a9 9 0 1 0 18 0a9 9 0 1 0 -18 0zM1586.2 1082.7a9 9 0 1 0 18 0a9 9 0 1 0 -18 0zM1588.6 1082.3a9 9 0 1 0 18 0a9 9 0 1 0 -18 0zM1591.1 1081.9a9 9 0 1 0 18 0a9 9 0 1 0 -18 0zM1593.6 1081.4a9 9 0 1 0 18 0a9 9 0 1 0 -18 0zM1596.1 1081a9 9 0 1 0 18 0a9 9 0 1 0 -18 0zM1598.5 1080.6a9 9 0 1 0 18 0a9 9 0 1 0 -18 0zM1601 1080.1a9 9 0 1 0 18 0a9 9 0 1 0 -18 0zM1603.5 1079.7a9 9 0 1 0 18 0a9 9 0 1 0 -18 0zM1605.9 1079.3a9 9 0 1 0 18 0a9 9 0 1 0 -18 0zM1608.4 1078.8a9 9 0 1 0 18 0a9 9 0 1 0 -18 0zM1610.9 1078.4a9 9 0 1 0 18 0a9 9 0 1 0 -18 0zM1613.4 1078a9 9 0 1 0 18 0a9 9 0 1 0 -18 0zM1615.8 1077.5a9 9 0 1 0 18 0a9 9 0 1 0 -18 0zM1618.3 1077.1a9 9 0 1 0 18 0a9 9 0 1 0 -18 0zM1620.8 1076.6a9 9 0 1 0 18 0a9 9 0 1 0 -18 0zM1623.2 1076.2a9 9 0 1 0 18 0a9 9 0 1 0 -18 0zM1625.7 1075.7a9 9 0 1 0 18 0a9 9 0 1 0 -18 0zM1628.2 1075.3a9 9 0 1 0 18 0a9 9 0 1 0 -18 0zM1630.7 1074.8a9 9 0 1 0 18 0a9 9 0 1 0 -18 0zM1633.1 1074.4a9 9 0 1 0 18 0a9 9 0 1 0 -18 0zM1635.6 1073.9a9 9 0 1 0 18 0a9 9 0 1 0 -18 0zM1638.1 1073.4a9 9 0 1 0 18 0a9 9 0 1 0 -18 0zM1640.5 1073a9 9 0 1 0 18 0a9 9 0 1 0 -18 0zM1643 1072.5a9 9 0 1 0 18 0a9 9 0 1 0 -18 0zM1645.5 1072.1a9 9 0 1 0 18 0a9 9 0 1 0 -18 0zM1647.9 1071.6a9 9 0 1 0 18 0a9 9 0 1 0 -18 0zM1650.4 1071.1a9 9 0 1 0 18 0a9 9 0 1 0 -18 0zM1652.9 1070.7a9 9 0 1 0 18 0a9 9 0 1 0 -18 0zM1655.4 1070.2a9 9 0 1 0 18 0a9 9 0 1 0 -18 0zM1657.8 1069.7a9 9 0 1 0 18 0a9 9 0 1 0 -18 0zM1660.3 1069.2a9 9 0 1 0 18 0a9 9 0 1 0 -18 0zM1662.8 1068.8a9 9 0 1 0 18 0a9 9 0 1 0 -18 0zM1665.2 1068.3a9 9 0 1 0 18 0a9 9 0 1 0 -18 0zM1667.7 1067.8a9 9 0 1 0 18 0a9 9 0 1 0 -18 0zM1670.2 1067.3a9 9 0 1 0 18 0a9 9 0 1 0 -18 0zM1672.7 1066.8a9 9 0 1 0 18 0a9 9 0 1 0 -18 0zM1675.1 1066.3a9 9 0 1 0 18 0a9 9 0 1 0 -18 0zM1677.6 1065.9a9 9 0 1 0 18 0a9 9 0 1 0 -18 0zM1680.1 1065.4a9 9 0 1 0 18 0a9 9 0 1 0 -18 0zM1682.5 1064.9a9 9 0 1 0 18 0a9 9 0 1 0 -18 0zM1685 1064.4a9 9 0 1 0 18 0a9 9 0 1 0 -18 0zM1687.5 1063.9a9 9 0 1 0 18 0a9 9 0 1 0 -18 0zM1690 1063.4a9 9 0 1 0 18 0a9 9 0 1 0 -18 0zM1692.4 1062.9a9 9 0 1 0 18 0a9 9 0 1 0 -18 0zM1694.9 1062.4a9 9 0 1 0 18 0a9 9 0 1 0 -18 0zM1697.4 1061.9a9 9 0 1 0 18 0a9 9 0 1 0 -18 0zM1699.8 1061.4a9 9 0 1 0 18 0a9 9 0 1 0 -18 0zM1702.3 1060.9a9 9 0 1 0 18 0a9 9 0 1 0 -18 0zM1704.8 1060.4a9 9 0 1 0 18 0a9 9 0 1 0 -18 0zM1707.3 1059.8a9 9 0 1 0 18 0a9 9 0 1 0 -18 0zM1709.7 1059.3a9 9 0 1 0 18 0a9 9 0 1 0 -18 0zM1712.2 1058.8a9 9 0 1 0 18 0a9 9 0 1 0 -18 0zM1714.7 1058.3a9 9 0 1 0 18 0a9 9 0 1 0 -18 0zM1717.1 1057.8a9 9 0 1 0 18 0a9 9 0 1 0 -18 0zM1719.6 1057.3a9 9 0 1 0 18 0a9 9 0 1 0 -18 0zM1722.1 1056.8a9 9 0 1 0 18 0a9 9 0 1 0 -18 0zM1724.5 1056.3a9 9 0 1 0 18 0a9 9 0 1 0 -18 0zM1727 1055.7a9 9 0 1 0 18 0a9 9 0 1 0 -18 0zM1729.5 1055.2a9 9 0 1 0 18 0a9 9 0 1 0 -18 0zM1732 1054.7a9 9 0 1 0 18 0a9 9 0 1 0 -18 0zM1734.4 1054.2a9 9 0 1 0 18 0a9 9 0 1 0 -18 0zM1736.9 1053.7a9 9 0 1 0 18 0a9 9 0 1 0 -18 0zM1739.4 1053.1a9 9 0 1 0 18 0a9 9 0 1 0 -18 0zM1741.8 1052.6a9 9 0 1 0 18 0a9 9 0 1 0 -18 0zM1744.3 1052.1a9 9 0 1 0 18 0a9 9 0 1 0 -18 0zM1746.8 1051.5a9 9 0 1 0 18 0a9 9 0 1 0 -18 0zM1749.3 1051a9 9 0 1 0 18 0a9 9 0 1 0 -18 0zM1751.7 1050.5a9 9 0 1 0 18 0a9 9 0 1 0 -18 0zM1754.2 1049.9a9 9 0 1 0 18 0a9 9 0 1 0 -18 0z" fill="#000"/>
<path d="M280.6 1309.5L283.1 1307.9L285.5 1306.2L288 1304.5L290.5 1302.8L293 1301.2L295.4 1299.5L297.9 1297.6L300.4 1295.3L302.8 1292.6L305.3 1289.8L307.8 1287.1L310.3 1284.6L312.7 1282.2L315.2 1279.9L317.7 1278.1L320.1 1276.7L322.6 1275.3L325.1 1274.3L327.5 1273.8L330 1273.5L332.5 1273.4L335 1273.5L337.4 1273.7L339.9 1274L342.4 1274.4L344.8 1274.8L347.3 1275.3L349.8 1275.9L352.3 1276.6L354.7 1277.3L357.2 1277.8L359.7 1278.2L362.1 1278.7L364.6 1279.4L367.1 1280.9L369.6 1282.8L372 1285L374.5 1287.6L377 1290.4L379.4 1293.3L381.9 1296.6L384.4 1300.1L386.9 1303L389.3 1305.6L391.8 1307.3L394.3 1308.4L396.7 1308.5L399.2 1308.3L401.7 1308L404.2 1307.7L406.6 1307.3L409.1 1306.6L411.6 1306.1L414 1305.8L416.5 1303.9L419 1300.8L421.4 1295.8L423.9 1287.1L426.4 1276.6L428.9 1259.3L431.3 1242L433.8 1219.5L436.3 1192.9L438.7 1163.3L441.2 1129.6L443.7 1095.4L446.2 1063L448.6 1029.4L451.1 994.5L453.6 957.2L456 922.3L458.5 887.5L461 852.6L463.5 817.7L465.9 787.9L468.4 759.2L470.9 731.2L473.3 704.4L475.8 679.5L478.3 659.6L480.8 643.4L483.2 626L485.7 611.1L488.2 597.7L490.6 589.2L493.1 579.2L495.6 571.2L498 564.1L500.5 559.1L503 555L505.5 551.6L507.9 549.2L510.4 547L512.9 544.8L515.3 542.6L517.8 540.4L520.3 538.1L522.8 535.9L525.2 533.9L527.7 532L530.2 530.2L532.6 528.6L535.1 526.9L537.6 525.4L540.1 524L542.5 522.5L545 520.8L547.5 518.8L549.9 516.8L552.4 515.4L554.9 514.8L557.4 514.4L559.8 514.2L562.3 513.9L564.8 513.5L567.2 512.8L569.7 511.3L572.2 509L574.6 506.4L577.1 502.7L579.6 499.6L582.1 497.5L584.5 495.5L587 494.1L589.5 493.7L591.9 494.4L594.4 495.8L596.9 497.1L599.4 497.4L601.8 497.3L604.3 497L606.8 496.6L609.2 496.2L611.7 495.6L614.2 495L616.7 493.6L619.1 491.9L621.6 490.1L624.1 489L626.5 488.2L629 487.6L631.5 487.1L634 486.6L636.4 486.1L638.9 485.6L641.4 484.9L643.8 484.3L646.3 483.6L648.8 483L651.2 482.2L653.7 481.4L656.2 480.4L658.7 479.3L661.1 478.3L663.6 477.6L666.1 477.2L668.5 476.8L671 476.5L673.5 476.2L676 475.8L678.4 475.3L680.9 474.5L683.4 472.5L685.8 470.1L688.3 467.8L690.8 466.4L693.3 466.4L695.7 467L698.2 467.5L700.7 467.6L703.1 467.6L705.6 467.5L708.1 467.4L710.6 467.3L713 467.1L715.5 467L718 466.8L720.4 466.6L722.9 466.3L725.4 465.9L727.9 465.5L730.3 465L732.8 464.5L735.3 463.9L737.7 463.4L740.2 462.8L742.7 462.2L745.1 461.5L747.6 460.8L750.1 460L752.6 459.3L755 458.6L757.5 458L760 457.5L762.4 457.1L764.9 456.8L767.4 456.6L769.9 456.3L772.3 456L774.8 455.7L777.3 455.4L779.7 454.9L782.2 454.2L784.7 453.2L787.2 451.9L789.6 450.5L792.1 449.1L794.6 447.9L797 446.8L799.5 446.1L802 445.6L804.5 445.1L806.9 444.8L809.4 444.6L811.9 444.7L814.3 445.1L816.8 445.6L819.3 446.4L821.7 447.2L824.2 448L826.7 448.8L829.2 449.5L831.6 450L834.1 450.4L836.6 450.5L839 450.3L841.5 450.1L844 449.7L846.5 449.2L848.9 448.7L851.4 448.1L853.9 447.5L856.3 446.8L858.8 446.1L861.3 445.5L863.8 444.9L866.2 444.3L868.7 443.8L871.2 443.4L873.6 443L876.1 442.7L878.6 442.4L881.1 442L883.5 441.7L886 441.4L888.5 441.1L890.9 440.8L893.4 440.5L895.9 440.2L898.4 439.8L900.8 439.5L903.3 439L905.8 438.5L908.2 438L910.7 437.5L913.2 437.1L915.6 436.8L918.1 436.8L920.6 436.9L923.1 437.4L925.5 437.9L928 438.6L930.5 439.3L932.9 440L935.4 440.5L937.9 440.9L940.4 441L942.8 441L945.3 440.8L947.8 440.7L950.2 440.5L952.7 440.2L955.2 440L957.7 439.7L960.1 439.3L962.6 439L965.1 438.7L967.5 438.4L970 438L972.5 437.7L975 437.5L977.4 437.2L979.9 437L982.4 436.8L984.8 436.7L987.3 436.5L989.8 436.4L992.2 436.2L994.7 436.1L997.2 435.9L999.7 435.8L1002.1 435.7L1004.6 435.5L1007.1 435.4L1009.5 435.3L1012 435.1L1014.5 435L1017 434.8L1019.4 434.7L1021.9 434.5L1024.4 434.3L1026.8 434.1L1029.3 433.8L1031.8 433.6L1034.3 433.4L1036.7 433.2L1039.2 433.1L1041.7 433L1044.1 433.1L1046.6 433.4L1049.1 433.9L1051.6 434.4L1054 434.9L1056.5 435.3L1059 435.5L1061.4 435.5L1063.9 435.5L1066.4 435.4L1068.8 435.3L1071.3 435.2L1073.8 435.1L1076.3 434.9L1078.7 434.7L1081.2 434.6L1083.7 434.4L1086.1 434.2L1088.6 434L1091.1 433.7L1093.6 433.5L1096 433.3L1098.5 433.1L1101 433L1103.4 432.7L1105.9 432.5L1108.4 432.3L1110.9 432L1113.3 431.8L1115.8 431.5L1118.3 431.2L1120.7 430.9L1123.2 430.7L1125.7 430.4L1128.2 430.2L1130.6 429.9L1133.1 429.7L1135.6 429.6L1138 429.4L1140.5 429.3L1143 429.2L1145.5 429.1L1147.9 428.9L1150.4 428.9L1152.9 428.8L1155.3 428.7L1157.8 428.6L1160.3 428.5L1162.7 428.5L1165.2 428.4L1167.7 428.4L1170.2 428.3L1172.6 428.3L1175.1 428.3L1177.6 428.2L1180 428.2L1182.5 428.2L1185 428.2L1187.5 428.2L1189.9 428.2L1192.4 428.1L1194.9 428.1L1197.3 428.1L1199.8 428.1L1202.3 428.1L1204.8 428.1L1207.2 428.1L1209.7 428.1L1212.2 428.1L1214.6 428.1L1217.1 428.1L1219.6 428.1L1222.1 428.1L1224.5 428.2L1227 428.3L1229.5 428.5L1231.9 428.7L1234.4 428.9L1236.9 429L1239.3 429.2L1241.8 429.3L1244.3 429.3L1246.8 429.2L1249.2 429L1251.7 428.7L1254.2 428.4L1256.6 428.1L1259.1 427.8L1261.6 427.6L1264.1 427.6L1266.5 427.6L1269 427.8L1271.5 428L1273.9 428.3L1276.4 428.6L1278.9 429L1281.4 429.3L1283.8 429.6L1286.3 429.9L1288.8 430.1L1291.2 430.2L1293.7 430.3L1296.2 430.4L1298.7 430.5L1301.1 430.6L1303.6 430.7L1306.1 430.8L1308.5 430.8L1311 430.9L1313.5 431L1315.9 431L1318.4 431.1L1320.9 431.1L1323.4 431.1L1325.8 431.1L1328.3 431.2L1330.8 431.2L1333.2 431.1L1335.7 431L1338.2 430.8L1340.7 430.6L1343.1 430.4L1345.6 430.3L1348.1 430.2L1350.5 430.2L1353 430.2L1355.5 430.2L1358 430.2L1360.4 430.2L1362.9 430.2L1365.4 430.2L1367.8 430.2L1370.3 430.2L1372.8 430.2L1375.3 430.2L1377.7 430.2L1380.2 430.2L1382.7 430.2L1385.1 430.3L1387.6 430.4L1390.1 430.6L1392.6 430.8L1395 431L1397.5 431.2L1400 431.5L1402.4 431.7L1404.9 431.9L1407.4 432L1409.8 432.2L1412.3 432.3L1414.8 432.3L1417.3 432.4L1419.7 432.5L1422.2 432.5L1424.7 432.6L1427.1 432.6L1429.6 432.7L1432.1 432.8L1434.6 432.9L1437 432.9L1439.5 433L1442 433.1L1444.4 433.3L1446.9 433.4L1449.4 433.6L1451.9 433.8L1454.3 434L1456.8 434.2L1459.3 434.4L1461.7 434.6L1464.2 434.8L1466.7 435L1469.2 435.1L1471.6 435.3L1474.1 435.5L1476.6 435.7L1479 435.9L1481.5 436.1L1484 436.3L1486.4 436.5L1488.9 436.7L1491.4 436.8L1493.9 437L1496.3 437.2L1498.8 437.3L1501.3 437.5L1503.7 437.6L1506.2 437.7L1508.7 437.8L1511.2 437.9L1513.6 438.1L1516.1 438.2L1518.6 438.3L1521 438.4L1523.5 438.5L1526 438.6L1528.5 438.7L1530.9 438.8L1533.4 438.9L1535.9 439L1538.3 439.1L1540.8 439.3L1543.3 439.4L1545.8 439.5L1548.2 439.7L1550.7 439.8L1553.2 440L1555.6 440.1L1558.1 440.3L1560.6 440.5L1563 440.6L1565.5 440.8L1568 441L1570.5 441.2L1572.9 441.3L1575.4 441.5L1577.9 441.7L1580.3 441.9L1582.8 442.1L1585.3 442.3L1587.8 442.4L1590.2 442.6L1592.7 442.8L1595.2 443L1597.6 443.2L1600.1 443.4L1602.6 443.5L1605.1 443.7L1607.5 443.9L1610 444.1L1612.5 444.3L1614.9 444.5L1617.4 444.7L1619.9 444.9L1622.4 445.1L1624.8 445.3L1627.3 445.5L1629.8 445.7L1632.2 445.9L1634.7 446.2L1637.2 446.4L1639.7 446.6L1642.1 446.8L1644.6 447L1647.1 447.3L1649.5 447.5L1652 447.7L1654.5 448L1656.9 448.2L1659.4 448.5L1661.9 448.7L1664.4 449L1666.8 449.2L1669.3 449.5L1671.8 449.7L1674.2 450L1676.7 450.2L1679.2 450.5L1681.7 450.7L1684.1 451L1686.6 451.2L1689.1 451.5L1691.5 451.7L1694 451.9L1696.5 452.2L1699 452.4L1701.4 452.6L1703.9 452.9L1706.4 453.1L1708.8 453.3L1711.3 453.6L1713.8 453.8L1716.3 454L1718.7 454.3L1721.2 454.5L1723.7 454.7L1726.1 455L1728.6 455.2L1731.1 455.4L1733.5 455.7L1736 455.9L1738.5 456.2L1741 456.4L1743.4 456.6L1745.9 456.9L1748.4 457.1L1750.8 457.3L1753.3 457.6L1755.8 457.8L1758.3 458.1L1760.7 458.3L1763.2 458.6" fill="none" stroke="#f00" stroke-width="3"/>
<path d="M279.6 1296.5h2l9.5 19.5h-21zM282.1 1294.9h2l9.5 19.5h-21zM284.5 1293.2h2l9.5 19.5h-21zM287 1291.5h2l9.5 19.5h-21zM289.5 1289.8h2l9.5 19.5h-21zM292 1288.2h2l9.5 19.5h-21zM294.4 1286.5h2l9.5 19.5h-21zM296.9 1284.6h2l9.5 19.5h-21zM299.4 1282.3h2l9.5 19.5h-21zM301.8 1279.6h2l9.5 19.5h-21zM304.3 1276.8h2l9.5 19.5h-21zM306.8 1274.1h2l9.5 19.5h-21zM309.3 1271.6h2l9.5 19.5h-21zM311.7 1269.2h2l9.5 19.5h-21zM314.2 1266.9h2l9.5 19.5h-21zM316.7 1265.1h2l9.5 19.5h-21zM319.1 1263.7h2l9.5 19.5h-21zM321.6 1262.3h2l9.5 19.5h-21zM324.1 1261.3h2l9.5 19.5h-21zM326.5 1260.8h2l9.5 19.5h-21zM329 1260.5h2l9.5 19.5h-21zM331.5 1260.4h2l9.5 19.5h-21zM334 1260.5h2l9.5 19.5h-21zM336.4 1260.7h2l9.5 19.5h-21zM338.9 1261h2l9.5 19.5h-21zM341.4 1261.4h2l9.5 19.5h-21zM343.8 1261.8h2l9.5 19.5h-21zM346.3 1262.3h2l9.5 19.5h-21zM348.8 1262.9h2l9.5 19.5h-21zM351.3 1263.6h2l9.5 19.5h-21zM353.7 1264.3h2l9.5 19.5h-21zM356.2 1264.8h2l9.5 19.5h-21zM358.7 1265.2h2l9.5 19.5h-21zM361.1 1265.7h2l9.5 19.5h-21zM363.6 1266.4h2l9.5 19.5h-21zM366.1 1267.9h2l9.5 19.5h-21zM368.6 1269.8h2l9.5 19.5h-21zM371 1272h2l9.5 19.5h-21zM373.5 1274.6h2l9.5 19.5h-21zM376 1277.4h2l9.5 19.5h-21zM378.4 1280.3h2l9.5 19.5h-21zM380.9 1283.6h2l9.5 19.5h-21zM383.4 1287.1h2l9.5 19.5h-21zM385.9 1290h2l9.5 19.5h-21zM388.3 1292.6h2l9.5 19.5h-21zM390.8 1294.3h2l9.5 19.5h-21zM393.3 1295.4h2l9.5 19.5h-21zM395.7 1295.5h2l9.5 19.5h-21zM398.2 1295.3h2l9.5 19.5h-21zM400.7 1295h2l9.5 19.5h-21zM403.2 1294.7h2l9.5 19.5h-21zM405.6 1294.3h2l9.5 19.5h-21zM408.1 1293.6h2l9.5 19.5h-21zM410.6 1293.1h2l9.5 19.5h-21zM413 1292.8h2l9.5 19.5h-21zM415.5 1290.9h2l9.5 19.5h-21zM418 1287.8h2l9.5 19.5h-21zM420.4 1282.8h2l9.5 19.5h-21zM422.9 1274.1h2l9.5 19.5h-21zM425.4 1263.6h2l9.5 19.5h-21zM427.9 1246.3h2l9.5 19.5h-21zM430.3 1229h2l9.5 19.5h-21zM432.8 1206.5h2l9.5 19.5h-21zM435.3 1179.9h2l9.5 19.5h-21zM437.7 1150.3h2l9.5 19.5h-21zM440.2 1116.6h2l9.5 19.5h-21zM442.7 1082.4h2l9.5 19.5h-21zM445.2 1050h2l9.5 19.5h-21zM447.6 1016.4h2l9.5 19.5h-21zM450.1 981.5h2l9.5 19.5h-21zM452.6 944.2h2l9.5 19.5h-21zM455 909.3h2l9.5 19.5h-21zM457.5 874.5h2l9.5 19.5h-21zM460 839.6h2l9.5 19.5h-21zM462.5 804.7h2l9.5 19.5h-21zM464.9 774.9h2l9.5 19.5h-21zM467.4 746.2h2l9.5 19.5h-21zM469.9 718.2h2l9.5 19.5h-21zM472.3 691.4h2l9.5 19.5h-21zM474.8 666.5h2l9.5 19.5h-21zM477.3 646.6h2l9.5 19.5h-21zM479.8 630.4h2l9.5 19.5h-21zM482.2 613h2l9.5 19.5h-21zM484.7 598.1h2l9.5 19.5h-21zM487.2 584.7h2l9.5 19.5h-21zM489.6 576.2h2l9.5 19.5h-21zM492.1 566.2h2l9.5 19.5h-21zM494.6 558.2h2l9.5 19.5h-21zM497 551.1h2l9.5 19.5h-21zM499.5 546.1h2l9.5 19.5h-21zM502 542h2l9.5 19.5h-21zM504.5 538.6h2l9.5 19.5h-21zM506.9 536.2h2l9.5 19.5h-21zM509.4 534h2l9.5 19.5h-21zM511.9 531.8h2l9.5 19.5h-21zM514.3 529.6h2l9.5 19.5h-21zM516.8 527.4h2l9.5 19.5h-21zM519.3 525.1h2l9.5 19.5h-21zM521.8 522.9h2l9.5 19.5h-21zM524.2 520.9h2l9.5 19.5h-21zM526.7 519h2l9.5 19.5h-21zM529.2 517.2h2l9.5 19.5h-21zM531.6 515.6h2l9.5 19.5h-21zM534.1 513.9h2l9.5 19.5h-21zM536.6 512.4h2l9.5 19.5h-21zM539.1 511h2l9.5 19.5h-21zM541.5 509.5h2l9.5 19.5h-21zM544 507.8h2l9.5 19.5h-21zM546.5 505.8h2l9.5 19.5h-21zM548.9 503.8h2l9.5 19.5h-21zM551.4 502.4h2l9.5 19.5h-21zM553.9 501.8h2l9.5 19.5h-21zM556.4 501.4h2l9.5 19.5h-21zM558.8 501.2h2l9.5 19.5h-21zM561.3 500.9h2l9.5 19.5h-21zM563.8 500.5h2l9.5 19.5h-21zM566.2 499.8h2l9.5 19.5h-21zM568.7 498.3h2l9.5 19.5h-21zM571.2 496h2l9.5 19.5h-21zM573.6 493.4h2l9.5 19.5h-21zM576.1 489.7h2l9.5 19.5h-21zM578.6 486.6h2l9.5 19.5h-21zM581.1 484.5h2l9.5 19.5h-21zM583.5 482.5h2l9.5 19.5h-21zM586 481.1h2l9.5 19.5h-21zM588.5 480.7h2l9.5 19.5h-21zM590.9 481.4h2l9.5 19.5h-21zM593.4 482.8h2l9.5 19.5h-21zM595.9 484.1h2l9.5 19.5h-21zM598.4 484.4h2l9.5 19.5h-21zM600.8 484.3h2l9.5 19.5h-21zM603.3 484h2l9.5 19.5h-21zM605.8 483.6h2l9.5 19.5h-21zM608.2 483.2h2l9.5 19.5h-21zM610.7 482.6h2l9.5 19.5h-21zM613.2 482h2l9.5 19.5h-21zM615.7 480.6h2l9.5 19.5h-21zM618.1 478.9h2l9.5 19.5h-21zM620.6 477.1h2l9.5 19.5h-21zM623.1 476h2l9.5 19.5h-21zM625.5 475.2h2l9.5 19.5h-21zM628 474.6h2l9.5 19.5h-21zM630.5 474.1h2l9.5 19.5h-21zM633 473.6h2l9.5 19.5h-21zM635.4 473.1h2l9.5 19.5h-21zM637.9 472.6h2l9.5 19.5h-21zM640.4 471.9h2l9.5 19.5h-21zM642.8 471.3h2l9.5 19.5h-21zM645.3 470.6h2l9.5 19.5h-21zM647.8 470h2l9.5 19.5h-21zM650.2 469.2h2l9.5 19.5h-21zM652.7 468.4h2l9.5 19.5h-21zM655.2 467.4h2l9.5 19.5h-21zM657.7 466.3h2l9.5 19.5h-21zM660.1 465.3h2l9.5 19.5h-21zM662.6 464.6h2l9.5 19.5h-21zM665.1 464.2h2l9.5 19.5h-21zM667.5 463.8h2l9.5 19.5h-21zM670 463.5h2l9.5 19.5h-21zM672.5 463.2h2l9.5 19.5h-21zM675 462.8h2l9.5 19.5h-21zM677.4 462.3h2l9.5 19.5h-21zM679.9 461.5h2l9.5 19.5h-21zM682.4 459.5h2l9.5 19.5h-21zM684.8 457.1h2l9.5 19.5h-21zM687.3 454.8h2l9.5 19.5h-21zM689.8 453.4h2l9.5 19.5h-21zM692.3 453.4h2l9.5 19.5h-21zM694.7 454h2l9.5 19.5h-21zM697.2 454.5h2l9.5 19.5h-21zM699.7 454.6h2l9.5 19.5h-21zM702.1 454.6h2l9.5 19.5h-21zM704.6 454.5h2l9.5 19.5h-21zM707.1 454.4h2l9.5 19.5h-21zM709.6 454.3h2l9.5 19.5h-21zM712 454.1h2l9.5 19.5h-21zM714.5 454h2l9.5 19.5h-21zM717 453.8h2l9.5 19.5h-21zM719.4 453.6h2l9.5 19.5h-21zM721.9 453.3h2l9.5 19.5h-21zM724.4 452.9h2l9.5 19.5h-21zM726.9 452.5h2l9.5 19.5h-21zM729.3 452h2l9.5 19.5h-21zM731.8 451.5h2l9.5 19.5h-21zM734.3 450.9h2l9.5 19.5h-21zM736.7 450.4h2l9.5 19.5h-21zM739.2 449.8h2l9.5 19.5h-21zM741.7 449.2h2l9.5 19.5h-21zM744.1 448.5h2l9.5 19.5h-21zM746.6 447.8h2l9.5 19.5h-21zM749.1 447h2l9.5 19.5h-21zM751.6 446.3h2l9.5 19.5h-21zM754 445.6h2l9.5 19.5h-21zM756.5 445h2l9.5 19.5h-21zM759 444.5h2l9.5 19.5h-21zM761.4 444.1h2l9.5 19.5h-21zM763.9 443.8h2l9.5 19.5h-21zM766.4 443.6h2l9.5 19.5h-21zM768.9 443.3h2l9.5 19.5h-21zM771.3 443h2l9.5 19.5h-21zM773.8 442.7h2l9.5 19.5h-21zM776.3 442.4h2l9.5 19.5h-21zM778.7 441.9h2l9.5 19.5h-21zM781.2 441.2h2l9.5 19.5h-21zM783.7 440.2h2l9.5 19.5h-21zM786.2 438.9h2l9.5 19.5h-21zM788.6 437.5h2l9.5 19.5h-21zM791.1 436.1h2l9.5 19.5h-21zM793.6 434.9h2l9.5 19.5h-21zM796 433.8h2l9.5 19.5h-21zM798.5 433.1h2l9.5 19.5h-21zM801 432.6h2l9.5 19.5h-21zM803.5 432.1h2l9.5 19.5h-21zM805.9 431.8h2l9.5 19.5h-21zM808.4 431.6h2l9.5 19.5h-21zM810.9 431.7h2l9.5 19.5h-21zM813.3 432.1h2l9.5 19.5h-21zM815.8 432.6h2l9.5 19.5h-21zM818.3 433.4h2l9.5 19.5h-21zM820.7 434.2h2l9.5 19.5h-21zM823.2 435h2l9.5 19.5h-21zM825.7 435.8h2l9.5 19.5h-21zM828.2 436.5h2l9.5 19.5h-21zM830.6 437h2l9.5 19.5h-21zM833.1 437.4h2l9.5 19.5h-21zM835.6 437.5h2l9.5 19.5h-21zM838 437.3h2l9.5 19.5h-21zM840.5 437.1h2l9.5 19.5h-21zM843 436.7h2l9.5 19.5h-21zM845.5 436.2h2l9.5 19.5h-21zM847.9 435.7h2l9.5 19.5h-21zM850.4 435.1h2l9.5 19.5h-21zM852.9 434.5h2l9.5 19.5h-21zM855.3 433.8h2l9.5 19.5h-21zM857.8 433.1h2l9.5 19.5h-21zM860.3 432.5h2l9.5 19.5h-21zM862.8 431.9h2l9.5 19.5h-21zM865.2 431.3h2l9.5 19.5h-21zM867.7 430.8h2l9.5 19.5h-21zM870.2 430.4h2l9.5 19.5h-21zM872.6 430h2l9.5 19.5h-21zM875.1 429.7h2l9.5 19.5h-21zM877.6 429.4h2l9.5 19.5h-21zM880.1 429h2l9.5 19.5h-21zM882.5 428.7h2l9.5 19.5h-21zM885 428.4h2l9.5 19.5h-21zM887.5 428.1h2l9.5 19.5h-21zM889.9 427.8h2l9.5 19.5h-21zM892.4 427.5h2l9.5 19.5h-21zM894.9 427.2h2l9.5 19.5h-21zM897.4 426.8h2l9.5 19.5h-21zM899.8 426.5h2l9.5 19.5h-21zM902.3 426h2l9.5 19.5h-21zM904.8 425.5h2l9.5 19.5h-21zM907.2 425h2l9.5 19.5h-21zM909.7 424.5h2l9.5 19.5h-21zM912.2 424.1h2l9.5 19.5h-21zM914.6 423.8h2l9.5 19.5h-21zM917.1 423.8h2l9.5 19.5h-21zM919.6 423.9h2l9.5 19.5h-21zM922.1 424.4h2l9.5 19.5h-21zM924.5 424.9h2l9.5 19.5h-21zM927 425.6h2l9.5 19.5h-21zM929.5 426.3h2l9.5 19.5h-21zM931.9 427h2l9.5 19.5h-21zM934.4 427.5h2l9.5 19.5h-21zM936.9 427.9h2l9.5 19.5h-21zM939.4 428h2l9.5 19.5h-21zM941.8 428h2l9.5 19.5h-21zM944.3 427.8h2l9.5 19.5h-21zM946.8 427.7h2l9.5 19.5h-21zM949.2 427.5h2l9.5 19.5h-21zM951.7 427.2h2l9.5 19.5h-21zM954.2 427h2l9.5 19.5h-21zM956.7 426.7h2l9.5 19.5h-21zM959.1 426.3h2l9.5 19.5h-21zM961.6 426h2l9.5 19.5h-21zM964.1 425.7h2l9.5 19.5h-21zM966.5 425.4h2l9.5 19.5h-21zM969 425h2l9.5 19.5h-21zM971.5 424.7h2l9.5 19.5h-21zM974 424.5h2l9.5 19.5h-21zM976.4 424.2h2l9.5 19.5h-21zM978.9 424h2l9.5 19.5h-21zM981.4 423.8h2l9.5 19.5h-21zM983.8 423.7h2l9.5 19.5h-21zM986.3 423.5h2l9.5 19.5h-21zM988.8 423.4h2l9.5 19.5h-21zM991.2 423.2h2l9.5 19.5h-21zM993.7 423.1h2l9.5 19.5h-21zM996.2 422.9h2l9.5 19.5h-21zM998.7 422.8h2l9.5 19.5h-21zM1001.1 422.7h2l9.5 19.5h-21zM1003.6 422.5h2l9.5 19.5h-21zM1006.1 422.4h2l9.5 19.5h-21zM1008.5 422.3h2l9.5 19.5h-21zM1011 422.1h2l9.5 19.5h-21zM1013.5 422h2l9.5 19.5h-21zM1016 421.8h2l9.5 19.5h-21zM1018.4 421.7h2l9.5 19.5h-21zM1020.9 421.5h2l9.5 19.5h-21zM1023.4 421.3h2l9.5 19.5h-21zM1025.8 421.1h2l9.5 19.5h-21zM1028.3 420.8h2l9.5 19.5h-21zM1030.8 420.6h2l9.5 19.5h-21zM1033.3 420.4h2l9.5 19.5h-21zM1035.7 420.2h2l9.5 19.5h-21zM1038.2 420.1h2l9.5 19.5h-21zM1040.7 420h2l9.5 19.5h-21zM1043.1 420.1h2l9.5 19.5h-21zM1045.6 420.4h2l9.5 19.5h-21zM1048.1 420.9h2l9.5 19.5h-21zM1050.6 421.4h2l9.5 19.5h-21zM1053 421.9h2l9.5 19.5h-21zM1055.5 422.3h2l9.5 19.5h-21zM1058 422.5h2l9.5 19.5h-21zM1060.4 422.5h2l9.5 19.5h-21zM1062.9 422.5h2l9.5 19.5h-21zM1065.4 422.4h2l9.5 19.5h-21zM1067.8 422.3h2l9.5 19.5h-21zM1070.3 422.2h2l9.5 19.5h-21zM1072.8 422.1h2l9.5 19.5h-21zM1075.3 421.9h2l9.5 19.5h-21zM1077.7 421.7h2l9.5 19.5h-21zM1080.2 421.6h2l9.5 19.5h-21zM1082.7 421.4h2l9.5 19.5h-21zM1085.1 421.2h2l9.5 19.5h-21zM1087.6 421h2l9.5 19.5h-21zM1090.1 420.7h2l9.5 19.5h-21zM1092.6 420.5h2l9.5 19.5h-21zM1095 420.3h2l9.5 19.5h-21zM1097.5 420.1h2l9.5 19.5h-21zM1100 420h2l9.5 19.5h-21zM1102.4 419.7h2l9.5 19.5h-21zM1104.9 419.5h2l9.5 19.5h-21zM1107.4 419.3h2l9.5 19.5h-21zM1109.9 419h2l9.5 19.5h-21zM1112.3 418.8h2l9.5 19.5h-21zM1114.8 418.5h2l9.5 19.5h-21zM1117.3 418.2h2l9.5 19.5h-21zM1119.7 417.9h2l9.5 19.5h-21zM1122.2 417.7h2l9.5 19.5h-21zM1124.7 417.4h2l9.5 19.5h-21zM1127.2 417.2h2l9.5 19.5h-21zM1129.6 416.9h2l9.5 19.5h-21zM1132.1 416.7h2l9.5 19.5h-21zM1134.6 416.6h2l9.5 19.5h-21zM1137 416.4h2l9.5 19.5h-21zM1139.5 416.3h2l9.5 19.5h-21zM1142 416.2h2l9.5 19.5h-21zM1144.5 416.1h2l9.5 19.5h-21zM1146.9 415.9h2l9.5 19.5h-21zM1149.4 415.9h2l9.5 19.5h-21zM1151.9 415.8h2l9.5 19.5h-21zM1154.3 415.7h2l9.5 19.5h-21zM1156.8 415.6h2l9.5 19.5h-21zM1159.3 415.5h2l9.5 19.5h-21zM1161.7 415.5h2l9.5 19.5h-21zM1164.2 415.4h2l9.5 19.5h-21zM1166.7 415.4h2l9.5 19.5h-21zM1169.2 415.3h2l9.5 19.5h-21zM1171.6 415.3h2l9.5 19.5h-21zM1174.1 415.3h2l9.5 19.5h-21zM1176.6 415.2h2l9.5 19.5h-21zM1179 415.2h2l9.5 19.5h-21zM1181.5 415.2h2l9.5 19.5h-21zM1184 415.2h2l9.5 19.5h-21zM1186.5 415.2h2l9.5 19.5h-21zM1188.9 415.2h2l9.5 19.5h-21zM1191.4 415.1h2l9.5 19.5h-21zM1193.9 415.1h2l9.5 19.5h-21zM1196.3 415.1h2l9.5 19.5h-21zM1198.8 415.1h2l9.5 19.5h-21zM1201.3 415.1h2l9.5 19.5h-21zM1203.8 415.1h2l9.5 19.5h-21zM1206.2 415.1h2l9.5 19.5h-21zM1208.7 415.1h2l9.5 19.5h-21zM1211.2 415.1h2l9.5 19.5h-21zM1213.6 415.1h2l9.5 19.5h-21zM1216.1 415.1h2l9.5 19.5h-21zM1218.6 415.1h2l9.5 19.5h-21zM1221.1 415.1h2l9.5 19.5h-21zM1223.5 415.2h2l9.5 19.5h-21zM1226 415.3h2l9.5 19.5h-21zM1228.5 415.5h2l9.5 19.5h-21zM1230.9 415.7h2l9.5 19.5h-21zM1233.4 415.9h2l9.5 19.5h-21zM1235.9 416h2l9.5 19.5h-21zM1238.3 416.2h2l9.5 19.5h-21zM1240.8 416.3h2l9.5 19.5h-21zM1243.3 416.3h2l9.5 19.5h-21zM1245.8 416.2h2l9.5 19.5h-21zM1248.2 416h2l9.5 19.5h-21zM1250.7 415.7h2l9.5 19.5h-21zM1253.2 415.4h2l9.5 19.5h-21zM1255.6 415.1h2l9.5 19.5h-21zM1258.1 414.8h2l9.5 19.5h-21zM1260.6 414.6h2l9.5 19.5h-21zM1263.1 414.6h2l9.5 19.5h-21zM1265.5 414.6h2l9.5 19.5h-21zM1268 414.8h2l9.5 19.5h-21zM1270.5 415h2l9.5 19.5h-21zM1272.9 415.3h2l9.5 19.5h-21zM1275.4 415.6h2l9.5 19.5h-21zM1277.9 416h2l9.5 19.5h-21zM1280.4 416.3h2l9.5 19.5h-21zM1282.8 416.6h2l9.5 19.5h-21zM1285.3 416.9h2l9.5 19.5h-21zM1287.8 417.1h2l9.5 19.5h-21zM1290.2 417.2h2l9.5 19.5h-21zM1292.7 417.3h2l9.5 19.5h-21zM1295.2 417.4h2l9.5 19.5h-21zM1297.7 417.5h2l9.5 19.5h-21zM1300.1 417.6h2l9.5 19.5h-21zM1302.6 417.7h2l9.5 19.5h-21zM1305.1 417.8h2l9.5 19.5h-21zM1307.5 417.8h2l9.5 19.5h-21zM1310 417.9h2l9.5 19.5h-21zM1312.5 418h2l9.5 19.5h-21zM1314.9 418h2l9.5 19.5h-21zM1317.4 418.1h2l9.5 19.5h-21zM1319.9 418.1h2l9.5 19.5h-21zM1322.4 418.1h2l9.5 19.5h-21zM1324.8 418.1h2l9.5 19.5h-21zM1327.3 418.2h2l9.5 19.5h-21zM1329.8 418.2h2l9.5 19.5h-21zM1332.2 418.1h2l9.5 19.5h-21zM1334.7 418h2l9.5 19.5h-21zM1337.2 417.8h2l9.5 19.5h-21zM1339.7 417.6h2l9.5 19.5h-21zM1342.1 417.4h2l9.5 19.5h-21zM1344.6 417.3h2l9.5 19.5h-21zM1347.1 417.2h2l9.5 19.5h-21zM1349.5 417.2h2l9.5 19.5h-21zM1352 417.2h2l9.5 19.5h-21zM1354.5 417.2h2l9.5 19.5h-21zM1357 417.2h2l9.5 19.5h-21zM1359.4 417.2h2l9.5 19.5h-21zM1361.9 417.2h2l9.5 19.5h-21zM1364.4 417.2h2l9.5 19.5h-21zM1366.8 417.2h2l9.5 19.5h-21zM1369.3 417.2h2l9.5 19.5h-21zM1371.8 417.2h2l9.5 19.5h-21zM1374.3 417.2h2l9.5 19.5h-21zM1376.7 417.2h2l9.5 19.5h-21zM1379.2 417.2h2l9.5 19.5h-21zM1381.7 417.2h2l9.5 19.5h-21zM1384.1 417.3h2l9.5 19.5h-21zM1386.6 417.4h2l9.5 19.5h-21zM1389.1 417.6h2l9.5 19.5h-21zM1391.6 417.8h2l9.5 19.5h-21zM1394 418h2l9.5 19.5h-21zM1396.5 418.2h2l9.5 19.5h-21zM1399 418.5h2l9.5 19.5h-21zM1401.4 418.7h2l9.5 19.5h-21zM1403.9 418.9h2l9.5 19.5h-21zM1406.4 419h2l9.5 19.5h-21zM1408.8 419.2h2l9.5 19.5h-21zM1411.3 419.3h2l9.5 19.5h-21zM1413.8 419.3h2l9.5 19.5h-21zM1416.3 419.4h2l9.5 19.5h-21zM1418.7 419.5h2l9.5 19.5h-21zM1421.2 419.5h2l9.5 19.5h-21zM1423.7 419.6h2l9.5 19.5h-21zM1426.1 419.6h2l9.5 19.5h-21zM1428.6 419.7h2l9.5 19.5h-21zM1431.1 419.8h2l9.5 19.5h-21zM1433.6 419.9h2l9.5 19.5h-21zM1436 419.9h2l9.5 19.5h-21zM1438.5 420h2l9.5 19.5h-21zM1441 420.1h2l9.5 19.5h-21zM1443.4 420.3h2l9.5 19.5h-21zM1445.9 420.4h2l9.5 19.5h-21zM1448.4 420.6h2l9.5 19.5h-21zM1450.9 420.8h2l9.5 19.5h-21zM1453.3 421h2l9.5 19.5h-21zM1455.8 421.2h2l9.5 19.5h-21zM1458.3 421.4h2l9.5 19.5h-21zM1460.7 421.6h2l9.5 19.5h-21zM1463.2 421.8h2l9.5 19.5h-21zM1465.7 422h2l9.5 19.5h-21zM1468.2 422.1h2l9.5 19.5h-21zM1470.6 422.3h2l9.5 19.5h-21zM1473.1 422.5h2l9.5 19.5h-21zM1475.6 422.7h2l9.5 19.5h-21zM1478 422.9h2l9.5 19.5h-21zM1480.5 423.1h2l9.5 19.5h-21zM1483 423.3h2l9.5 19.5h-21zM1485.4 423.5h2l9.5 19.5h-21zM1487.9 423.7h2l9.5 19.5h-21zM1490.4 423.8h2l9.5 19.5h-21zM1492.9 424h2l9.5 19.5h-21zM1495.3 424.2h2l9.5 19.5h-21zM1497.8 424.3h2l9.5 19.5h-21zM1500.3 424.5h2l9.5 19.5h-21zM1502.7 424.6h2l9.5 19.5h-21zM1505.2 424.7h2l9.5 19.5h-21zM1507.7 424.8h2l9.5 19.5h-21zM1510.2 424.9h2l9.5 19.5h-21zM1512.6 425.1h2l9.5 19.5h-21zM1515.1 425.2h2l9.5 19.5h-21zM1517.6 425.3h2l9.5 19.5h-21zM1520 425.4h2l9.5 19.5h-21zM1522.5 425.5h2l9.5 19.5h-21zM1525 425.6h2l9.5 19.5h-21zM1527.5 425.7h2l9.5 19.5h-21zM1529.9 425.8h2l9.5 19.5h-21zM1532.4 425.9h2l9.5 19.5h-21zM1534.9 426h2l9.5 19.5h-21zM1537.3 426.1h2l9.5 19.5h-21zM1539.8 426.3h2l9.5 19.5h-21zM1542.3 426.4h2l9.5 19.5h-21zM1544.8 426.5h2l9.5 19.5h-21zM1547.2 426.7h2l9.5 19.5h-21zM1549.7 426.8h2l9.5 19.5h-21zM1552.2 427h2l9.5 19.5h-21zM1554.6 427.1h2l9.5 19.5h-21zM1557.1 427.3h2l9.5 19.5h-21zM1559.6 427.5h2l9.5 19.5h-21zM1562 427.6h2l9.5 19.5h-21zM1564.5 427.8h2l9.5 19.5h-21zM1567 428h2l9.5 19.5h-21zM1569.5 428.2h2l9.5 19.5h-21zM1571.9 428.3h2l9.5 19.5h-21zM1574.4 428.5h2l9.5 19.5h-21zM1576.9 428.7h2l9.5 19.5h-21zM1579.3 428.9h2l9.5 19.5h-21zM1581.8 429.1h2l9.5 19.5h-21zM1584.3 429.3h2l9.5 19.5h-21zM1586.8 429.4h2l9.5 19.5h-21zM1589.2 429.6h2l9.5 19.5h-21zM1591.7 429.8h2l9.5 19.5h-21zM1594.2 430h2l9.5 19.5h-21zM1596.6 430.2h2l9.5 19.5h-21zM1599.1 430.4h2l9.5 19.5h-21zM1601.6 430.5h2l9.5 19.5h-21zM1604.1 430.7h2l9.5 19.5h-21zM1606.5 430.9h2l9.5 19.5h-21zM1609 431.1h2l9.5 19.5h-21zM1611.5 431.3h2l9.5 19.5h-21zM1613.9 431.5h2l9.5 19.5h-21zM1616.4 431.7h2l9.5 19.5h-21zM1618.9 431.9h2l9.5 19.5h-21zM1621.4 432.1h2l9.5 19.5h-21zM1623.8 432.3h2l9.5 19.5h-21zM1626.3 432.5h2l9.5 19.5h-21zM1628.8 432.7h2l9.5 19.5h-21zM1631.2 432.9h2l9.5 19.5h-21zM1633.7 433.2h2l9.5 19.5h-21zM1636.2 433.4h2l9.5 19.5h-21zM1638.7 433.6h2l9.5 19.5h-21zM1641.1 433.8h2l9.5 19.5h-21zM1643.6 434h2l9.5 19.5h-21zM1646.1 434.3h2l9.5 19.5h-21zM1648.5 434.5h2l9.5 19.5h-21zM1651 434.7h2l9.5 19.5h-21zM1653.5 435h2l9.5 19.5h-21zM1655.9 435.2h2l9.5 19.5h-21zM1658.4 435.5h2l9.5 19.5h-21zM1660.9 435.7h2l9.5 19.5h-21zM1663.4 436h2l9.5 19.5h-21zM1665.8 436.2h2l9.5 19.5h-21zM1668.3 436.5h2l9.5 19.5h-21zM1670.8 436.7h2l9.5 19.5h-21zM1673.2 437h2l9.5 19.5h-21zM1675.7 437.2h2l9.5 19.5h-21zM1678.2 437.5h2l9.5 19.5h-21zM1680.7 437.7h2l9.5 19.5h-21zM1683.1 438h2l9.5 19.5h-21zM1685.6 438.2h2l9.5 19.5h-21zM1688.1 438.5h2l9.5 19.5h-21zM1690.5 438.7h2l9.5 19.5h-21zM1693 438.9h2l9.5 19.5h-21zM1695.5 439.2h2l9.5 19.5h-21zM1698 439.4h2l9.5 19.5h-21zM1700.4 439.6h2l9.5 19.5h-21zM1702.9 439.9h2l9.5 19.5h-21zM1705.4 440.1h2l9.5 19.5h-21zM1707.8 440.3h2l9.5 19.5h-21zM1710.3 440.6h2l9.5 19.5h-21zM1712.8 440.8h2l9.5 19.5h-21zM1715.3 441h2l9.5 19.5h-21zM1717.7 441.3h2l9.5 19.5h-21zM1720.2 441.5h2l9.5 19.5h-21zM1722.7 441.7h2l9.5 19.5h-21zM1725.1 442h2l9.5 19.5h-21zM1727.6 442.2h2l9.5 19.5h-21zM1730.1 442.4h2l9.5 19.5h-21zM1732.5 442.7h2l9.5 19.5h-21zM1735 442.9h2l9.5 19.5h-21zM1737.5 443.2h2l9.5 19.5h-21zM1740 443.4h2l9.5 19.5h-21zM1742.4 443.6h2l9.5 19.5h-21zM1744.9 443.9h2l9.5 19.5h-21zM1747.4 444.1h2l9.5 19.5h-21zM1749.8 444.3h2l9.5 19.5h-21zM1752.3 444.6h2l9.5 19.5h-21zM1754.8 444.8h2l9.5 19.5h-21zM1757.3 445.1h2l9.5 19.5h-21zM1759.7 445.3h2l9.5 19.5h-21zM1762.2 445.6h2l9.5 19.5h-21z" fill="#f00"/>
<path d="M279.6 864.4h2l9.5 -19.5h-21zM282.1 869.8h2l9.5 -19.5h-21zM284.5 875.3h2l9.5 -19.5h-21zM287 880.7h2l9.5 -19.5h-21zM289.5 886.2h2l9.5 -19.5h-21zM292 891.7h2l9.5 -19.5h-21zM294.4 897.3h2l9.5 -19.5h-21zM296.9 903h2l9.5 -19.5h-21zM299.4 908.7h2l9.5 -19.5h-21zM301.8 914.3h2l9.5 -19.5h-21zM304.3 919.8h2l9.5 -19.5h-21zM306.8 925.2h2l9.5 -19.5h-21zM309.3 930.5h2l9.5 -19.5h-21zM311.7 936.5h2l9.5 -19.5h-21zM314.2 942.9h2l9.5 -19.5h-21zM316.7 949.2h2l9.5 -19.5h-21zM319.1 955.1h2l9.5 -19.5h-21zM321.6 960.1h2l9.5 -19.5h-21zM324.1 963.7h2l9.5 -19.5h-21zM326.5 965.6h2l9.5 -19.5h-21zM329 965.5h2l9.5 -19.5h-21zM331.5 963.7h2l9.5 -19.5h-21zM334 961.5h2l9.5 -19.5h-21zM336.4 958.8h2l9.5 -19.5h-21zM338.9 955.3h2l9.5 -19.5h-21zM341.4 951h2l9.5 -19.5h-21zM343.8 945.5h2l9.5 -19.5h-21zM346.3 938.7h2l9.5 -19.5h-21zM348.8 930.8h2l9.5 -19.5h-21zM351.3 922.4h2l9.5 -19.5h-21zM353.7 913.6h2l9.5 -19.5h-21zM356.2 903.7h2l9.5 -19.5h-21zM358.7 892.7h2l9.5 -19.5h-21zM361.1 881.6h2l9.5 -19.5h-21zM363.6 871h2l9.5 -19.5h-21zM366.1 861h2l9.5 -19.5h-21zM368.6 851.3h2l9.5 -19.5h-21zM371 841.9h2l9.5 -19.5h-21zM373.5 832.8h2l9.5 -19.5h-21zM376 823.9h2l9.5 -19.5h-21zM378.4 815.2h2l9.5 -19.5h-21zM380.9 806.3h2l9.5 -19.5h-21zM383.4 798.2h2l9.5 -19.5h-21zM385.9 791.6h2l9.5 -19.5h-21zM388.3 786.4h2l9.5 -19.5h-21zM390.8 781.9h2l9.5 -19.5h-21zM393.3 777.2h2l9.5 -19.5h-21zM395.7 771.7h2l9.5 -19.5h-21zM398.2 766.1h2l9.5 -19.5h-21zM400.7 761.6h2l9.5 -19.5h-21zM403.2 758.8h2l9.5 -19.5h-21zM405.6 756.7h2l9.5 -19.5h-21zM408.1 755.4h2l9.5 -19.5h-21zM410.6 754.8h2l9.5 -19.5h-21zM413 754.4h2l9.5 -19.5h-21zM415.5 754.3h2l9.5 -19.5h-21zM418 754.4h2l9.5 -19.5h-21zM420.4 754.6h2l9.5 -19.5h-21zM422.9 755h2l9.5 -19.5h-21zM425.4 755.5h2l9.5 -19.5h-21zM427.9 756h2l9.5 -19.5h-21zM430.3 756.8h2l9.5 -19.5h-21zM432.8 757.9h2l9.5 -19.5h-21zM435.3 759.3h2l9.5 -19.5h-21zM437.7 760.8h2l9.5 -19.5h-21zM440.2 762.9h2l9.5 -19.5h-21zM442.7 765.6h2l9.5 -19.5h-21zM445.2 768.6h2l9.5 -19.5h-21zM447.6 771.6h2l9.5 -19.5h-21zM450.1 774.5h2l9.5 -19.5h-21zM452.6 777.3h2l9.5 -19.5h-21zM455 780.2h2l9.5 -19.5h-21zM457.5 783.4h2l9.5 -19.5h-21zM460 787h2l9.5 -19.5h-21zM462.5 790.9h2l9.5 -19.5h-21zM464.9 795.2h2l9.5 -19.5h-21zM467.4 799.9h2l9.5 -19.5h-21zM469.9 805.2h2l9.5 -19.5h-21zM472.3 811.5h2l9.5 -19.5h-21zM474.8 818.3h2l9.5 -19.5h-21zM477.3 825.1h2l9.5 -19.5h-21zM479.8 831.5h2l9.5 -19.5h-21zM482.2 837.9h2l9.5 -19.5h-21zM484.7 844.3h2l9.5 -19.5h-21zM487.2 850.6h2l9.5 -19.5h-21zM489.6 857.1h2l9.5 -19.5h-21zM492.1 864h2l9.5 -19.5h-21zM494.6 870.2h2l9.5 -19.5h-21zM497 874.6h2l9.5 -19.5h-21zM499.5 878.1h2l9.5 -19.5h-21zM502 881.1h2l9.5 -19.5h-21zM504.5 883.6h2l9.5 -19.5h-21zM506.9 885.5h2l9.5 -19.5h-21zM509.4 887h2l9.5 -19.5h-21zM511.9 888.3h2l9.5 -19.5h-21zM514.3 889.4h2l9.5 -19.5h-21zM516.8 890.3h2l9.5 -19.5h-21zM519.3 891.2h2l9.5 -19.5h-21zM521.8 892.1h2l9.5 -19.5h-21zM524.2 893h2l9.5 -19.5h-21zM526.7 894h2l9.5 -19.5h-21zM529.2 895.1h2l9.5 -19.5h-21zM531.6 896.4h2l9.5 -19.5h-21zM534.1 897.9h2l9.5 -19.5h-21zM536.6 899.4h2l9.5 -19.5h-21zM539.1 901h2l9.5 -19.5h-21zM541.5 902.4h2l9.5 -19.5h-21zM544 903.7h2l9.5 -19.5h-21zM546.5 904.8h2l9.5 -19.5h-21zM548.9 905.5h2l9.5 -19.5h-21zM551.4 906h2l9.5 -19.5h-21zM553.9 906.4h2l9.5 -19.5h-21zM556.4 906.6h2l9.5 -19.5h-21zM558.8 906.9h2l9.5 -19.5h-21zM561.3 907.2h2l9.5 -19.5h-21zM563.8 907.5h2l9.5 -19.5h-21zM566.2 907.9h2l9.5 -19.5h-21zM568.7 908.5h2l9.5 -19.5h-21zM571.2 910h2l9.5 -19.5h-21zM573.6 912.4h2l9.5 -19.5h-21zM576.1 914.8h2l9.5 -19.5h-21zM578.6 916.2h2l9.5 -19.5h-21zM581.1 917.1h2l9.5 -19.5h-21zM583.5 917.9h2l9.5 -19.5h-21zM586 918.4h2l9.5 -19.5h-21zM588.5 918.6h2l9.5 -19.5h-21zM590.9 918.6h2l9.5 -19.5h-21zM593.4 918.4h2l9.5 -19.5h-21zM595.9 918.2h2l9.5 -19.5h-21zM598.4 918h2l9.5 -19.5h-21zM600.8 917.7h2l9.5 -19.5h-21zM603.3 917.5h2l9.5 -19.5h-21zM605.8 917.3h2l9.5 -19.5h-21zM608.2 917.3h2l9.5 -19.5h-21zM610.7 917.4h2l9.5 -19.5h-21zM613.2 917.9h2l9.5 -19.5h-21zM615.7 918.6h2l9.5 -19.5h-21zM618.1 919.5h2l9.5 -19.5h-21zM620.6 920.6h2l9.5 -19.5h-21zM623.1 921.5h2l9.5 -19.5h-21zM625.5 922.4h2l9.5 -19.5h-21zM628 923.1h2l9.5 -19.5h-21zM630.5 923.5h2l9.5 -19.5h-21zM633 923.9h2l9.5 -19.5h-21zM635.4 924.2h2l9.5 -19.5h-21zM637.9 924.5h2l9.5 -19.5h-21zM640.4 924.8h2l9.5 -19.5h-21zM642.8 925h2l9.5 -19.5h-21zM645.3 925.3h2l9.5 -19.5h-21zM647.8 925.7h2l9.5 -19.5h-21zM650.2 926.1h2l9.5 -19.5h-21zM652.7 926.6h2l9.5 -19.5h-21zM655.2 927h2l9.5 -19.5h-21zM657.7 927.6h2l9.5 -19.5h-21zM660.1 928.1h2l9.5 -19.5h-21zM662.6 928.7h2l9.5 -19.5h-21zM665.1 929.4h2l9.5 -19.5h-21zM667.5 930h2l9.5 -19.5h-21zM670 930.7h2l9.5 -19.5h-21zM672.5 931.6h2l9.5 -19.5h-21zM675 932.7h2l9.5 -19.5h-21zM677.4 933.9h2l9.5 -19.5h-21zM679.9 935h2l9.5 -19.5h-21zM682.4 936h2l9.5 -19.5h-21zM684.8 936.8h2l9.5 -19.5h-21zM687.3 937.2h2l9.5 -19.5h-21zM689.8 937.3h2l9.5 -19.5h-21zM692.3 937.2h2l9.5 -19.5h-21zM694.7 937h2l9.5 -19.5h-21zM697.2 936.7h2l9.5 -19.5h-21zM699.7 936.5h2l9.5 -19.5h-21zM702.1 936.2h2l9.5 -19.5h-21zM704.6 936h2l9.5 -19.5h-21zM707.1 935.8h2l9.5 -19.5h-21zM709.6 935.8h2l9.5 -19.5h-21zM712 935.9h2l9.5 -19.5h-21zM714.5 936.2h2l9.5 -19.5h-21zM717 936.5h2l9.5 -19.5h-21zM719.4 936.9h2l9.5 -19.5h-21zM721.9 937.3h2l9.5 -19.5h-21zM724.4 937.7h2l9.5 -19.5h-21zM726.9 938.1h2l9.5 -19.5h-21zM729.3 938.4h2l9.5 -19.5h-21zM731.8 938.6h2l9.5 -19.5h-21zM734.3 938.8h2l9.5 -19.5h-21zM736.7 939.1h2l9.5 -19.5h-21zM739.2 939.3h2l9.5 -19.5h-21zM741.7 939.5h2l9.5 -19.5h-21zM744.1 939.7h2l9.5 -19.5h-21zM746.6 940h2l9.5 -19.5h-21zM749.1 940.3h2l9.5 -19.5h-21zM751.6 940.7h2l9.5 -19.5h-21zM754 941.2h2l9.5 -19.5h-21zM756.5 941.7h2l9.5 -19.5h-21zM759 942.2h2l9.5 -19.5h-21zM761.4 942.8h2l9.5 -19.5h-21zM763.9 943.3h2l9.5 -19.5h-21zM766.4 943.8h2l9.5 -19.5h-21zM768.9 944.3h2l9.5 -19.5h-21zM771.3 944.7h2l9.5 -19.5h-21zM773.8 945.1h2l9.5 -19.5h-21zM776.3 945.4h2l9.5 -19.5h-21zM778.7 945.8h2l9.5 -19.5h-21zM781.2 946.1h2l9.5 -19.5h-21zM783.7 946.5h2l9.5 -19.5h-21zM786.2 946.9h2l9.5 -19.5h-21zM788.6 947.3h2l9.5 -19.5h-21zM791.1 947.8h2l9.5 -19.5h-21zM793.6 948.4h2l9.5 -19.5h-21zM796 949.1h2l9.5 -19.5h-21zM798.5 949.8h2l9.5 -19.5h-21zM801 950.4h2l9.5 -19.5h-21zM803.5 950.9h2l9.5 -19.5h-21zM805.9 951.3h2l9.5 -19.5h-21zM808.4 951.5h2l9.5 -19.5h-21zM810.9 951.4h2l9.5 -19.5h-21zM813.3 951.2h2l9.5 -19.5h-21zM815.8 950.9h2l9.5 -19.5h-21zM818.3 950.5h2l9.5 -19.5h-21zM820.7 950.1h2l9.5 -19.5h-21zM823.2 949.7h2l9.5 -19.5h-21zM825.7 949.3h2l9.5 -19.5h-21zM828.2 949.1h2l9.5 -19.5h-21zM830.6 948.9h2l9.5 -19.5h-21zM833.1 948.8h2l9.5 -19.5h-21zM835.6 948.6h2l9.5 -19.5h-21zM838 948.5h2l9.5 -19.5h-21zM840.5 948.5h2l9.5 -19.5h-21zM843 948.6h2l9.5 -19.5h-21zM845.5 948.8h2l9.5 -19.5h-21zM847.9 949h2l9.5 -19.5h-21zM850.4 949.4h2l9.5 -19.5h-21zM852.9 949.8h2l9.5 -19.5h-21zM855.3 950.3h2l9.5 -19.5h-21zM857.8 950.8h2l9.5 -19.5h-21zM860.3 951.3h2l9.5 -19.5h-21zM862.8 951.8h2l9.5 -19.5h-21zM865.2 952.2h2l9.5 -19.5h-21zM867.7 952.6h2l9.5 -19.5h-21zM870.2 952.9h2l9.5 -19.5h-21zM872.6 953.2h2l9.5 -19.5h-21zM875.1 953.6h2l9.5 -19.5h-21zM877.6 953.9h2l9.5 -19.5h-21zM880.1 954.3h2l9.5 -19.5h-21zM882.5 954.7h2l9.5 -19.5h-21zM885 955h2l9.5 -19.5h-21zM887.5 955.4h2l9.5 -19.5h-21zM889.9 955.7h2l9.5 -19.5h-21zM892.4 956h2l9.5 -19.5h-21zM894.9 956.3h2l9.5 -19.5h-21zM897.4 956.6h2l9.5 -19.5h-21zM899.8 956.9h2l9.5 -19.5h-21zM902.3 957.1h2l9.5 -19.5h-21zM904.8 957.3h2l9.5 -19.5h-21zM907.2 957.5h2l9.5 -19.5h-21zM909.7 957.6h2l9.5 -19.5h-21zM912.2 957.7h2l9.5 -19.5h-21zM914.6 957.7h2l9.5 -19.5h-21zM917.1 957.6h2l9.5 -19.5h-21zM919.6 957.4h2l9.5 -19.5h-21zM922.1 957.1h2l9.5 -19.5h-21zM924.5 956.6h2l9.5 -19.5h-21zM927 956.1h2l9.5 -19.5h-21zM929.5 955.7h2l9.5 -19.5h-21zM931.9 955.2h2l9.5 -19.5h-21zM934.4 954.9h2l9.5 -19.5h-21zM936.9 954.7h2l9.5 -19.5h-21zM939.4 954.6h2l9.5 -19.5h-21zM941.8 954.6h2l9.5 -19.5h-21zM944.3 954.7h2l9.5 -19.5h-21zM946.8 954.8h2l9.5 -19.5h-21zM949.2 954.9h2l9.5 -19.5h-21zM951.7 955h2l9.5 -19.5h-21zM954.2 955.2h2l9.5 -19.5h-21zM956.7 955.3h2l9.5 -19.5h-21zM959.1 955.5h2l9.5 -19.5h-21zM961.6 955.7h2l9.5 -19.5h-21zM964.1 955.9h2l9.5 -19.5h-21zM966.5 956.1h2l9.5 -19.5h-21zM969 956.3h2l9.5 -19.5h-21zM971.5 956.5h2l9.5 -19.5h-21zM974 956.7h2l9.5 -19.5h-21zM976.4 956.9h2l9.5 -19.5h-21zM978.9 957.1h2l9.5 -19.5h-21zM981.4 957.3h2l9.5 -19.5h-21zM983.8 957.4h2l9.5 -19.5h-21zM986.3 957.6h2l9.5 -19.5h-21zM988.8 957.7h2l9.5 -19.5h-21zM991.2 957.8h2l9.5 -19.5h-21zM993.7 958h2l9.5 -19.5h-21zM996.2 958.1h2l9.5 -19.5h-21zM998.7 958.2h2l9.5 -19.5h-21zM1001.1 958.4h2l9.5 -19.5h-21zM1003.6 958.5h2l9.5 -19.5h-21zM1006.1 958.6h2l9.5 -19.5h-21zM1008.5 958.8h2l9.5 -19.5h-21zM1011 958.9h2l9.5 -19.5h-21zM1013.5 959h2l9.5 -19.5h-21zM1016 959.1h2l9.5 -19.5h-21zM1018.4 959.2h2l9.5 -19.5h-21zM1020.9 959.3h2l9.5 -19.5h-21zM1023.4 959.4h2l9.5 -19.5h-21zM1025.8 959.5h2l9.5 -19.5h-21zM1028.3 959.6h2l9.5 -19.5h-21zM1030.8 959.6h2l9.5 -19.5h-21zM1033.3 959.7h2l9.5 -19.5h-21zM1035.7 959.7h2l9.5 -19.5h-21zM1038.2 959.7h2l9.5 -19.5h-21zM1040.7 959.7h2l9.5 -19.5h-21zM1043.1 959.6h2l9.5 -19.5h-21zM1045.6 959.5h2l9.5 -19.5h-21zM1048.1 959.4h2l9.5 -19.5h-21zM1050.6 959.3h2l9.5 -19.5h-21zM1053 959.1h2l9.5 -19.5h-21zM1055.5 958.9h2l9.5 -19.5h-21zM1058 958.8h2l9.5 -19.5h-21zM1060.4 958.6h2l9.5 -19.5h-21zM1062.9 958.5h2l9.5 -19.5h-21zM1065.4 958.4h2l9.5 -19.5h-21zM1067.8 958.4h2l9.5 -19.5h-21zM1070.3 958.4h2l9.5 -19.5h-21zM1072.8 958.4h2l9.5 -19.5h-21zM1075.3 958.4h2l9.5 -19.5h-21zM1077.7 958.5h2l9.5 -19.5h-21zM1080.2 958.6h2l9.5 -19.5h-21zM1082.7 958.7h2l9.5 -19.5h-21zM1085.1 958.8h2l9.5 -19.5h-21zM1087.6 958.9h2l9.5 -19.5h-21zM1090.1 959.1h2l9.5 -19.5h-21zM1092.6 959.2h2l9.5 -19.5h-21zM1095 959.4h2l9.5 -19.5h-21zM1097.5 959.5h2l9.5 -19.5h-21zM1100 959.7h2l9.5 -19.5h-21zM1102.4 959.8h2l9.5 -19.5h-21zM1104.9 960h2l9.5 -19.5h-21zM1107.4 960.1h2l9.5 -19.5h-21zM1109.9 960.3h2l9.5 -19.5h-21zM1112.3 960.4h2l9.5 -19.5h-21zM1114.8 960.7h2l9.5 -19.5h-21zM1117.3 960.9h2l9.5 -19.5h-21zM1119.7 961.1h2l9.5 -19.5h-21zM1122.2 961.4h2l9.5 -19.5h-21zM1124.7 961.6h2l9.5 -19.5h-21zM1127.2 961.9h2l9.5 -19.5h-21zM1129.6 962.1h2l9.5 -19.5h-21zM1132.1 962.4h2l9.5 -19.5h-21zM1134.6 962.6h2l9.5 -19.5h-21zM1137 962.8h2l9.5 -19.5h-21zM1139.5 963h2l9.5 -19.5h-21zM1142 963.1h2l9.5 -19.5h-21zM1144.5 963.2h2l9.5 -19.5h-21zM1146.9 963.3h2l9.5 -19.5h-21zM1149.4 963.3h2l9.5 -19.5h-21zM1151.9 963.3h2l9.5 -19.5h-21zM1154.3 963.2h2l9.5 -19.5h-21zM1156.8 963h2l9.5 -19.5h-21zM1159.3 962.8h2l9.5 -19.5h-21zM1161.7 962.6h2l9.5 -19.5h-21zM1164.2 962.5h2l9.5 -19.5h-21zM1166.7 962.4h2l9.5 -19.5h-21zM1169.2 962.3h2l9.5 -19.5h-21zM1171.6 962.3h2l9.5 -19.5h-21zM1174.1 962.4h2l9.5 -19.5h-21zM1176.6 962.5h2l9.5 -19.5h-21zM1179 962.6h2l9.5 -19.5h-21zM1181.5 962.7h2l9.5 -19.5h-21zM1184 962.8h2l9.5 -19.5h-21zM1186.5 962.9h2l9.5 -19.5h-21zM1188.9 963h2l9.5 -19.5h-21zM1191.4 963.1h2l9.5 -19.5h-21zM1193.9 963.2h2l9.5 -19.5h-21zM1196.3 963.3h2l9.5 -19.5h-21zM1198.8 963.3h2l9.5 -19.5h-21zM1201.3 963.3h2l9.5 -19.5h-21zM1203.8 963.3h2l9.5 -19.5h-21zM1206.2 963.3h2l9.5 -19.5h-21zM1208.7 963.3h2l9.5 -19.5h-21zM1211.2 963.3h2l9.5 -19.5h-21zM1213.6 963.3h2l9.5 -19.5h-21zM1216.1 963.3h2l9.5 -19.5h-21zM1218.6 963.3h2l9.5 -19.5h-21zM1221.1 963.3h2l9.5 -19.5h-21zM1223.5 963.3h2l9.5 -19.5h-21zM1226 963.3h2l9.5 -19.5h-21zM1228.5 963.3h2l9.5 -19.5h-21zM1230.9 963.3h2l9.5 -19.5h-21zM1233.4 963.2h2l9.5 -19.5h-21zM1235.9 963.2h2l9.5 -19.5h-21zM1238.3 963.2h2l9.5 -19.5h-21zM1240.8 963.2h2l9.5 -19.5h-21zM1243.3 963.2h2l9.5 -19.5h-21zM1245.8 963.2h2l9.5 -19.5h-21zM1248.2 963.2h2l9.5 -19.5h-21zM1250.7 963.1h2l9.5 -19.5h-21zM1253.2 963.1h2l9.5 -19.5h-21zM1255.6 963.1h2l9.5 -19.5h-21zM1258.1 963.1h2l9.5 -19.5h-21zM1260.6 963.1h2l9.5 -19.5h-21zM1263.1 963h2l9.5 -19.5h-21zM1265.5 963h2l9.5 -19.5h-21zM1268 963h2l9.5 -19.5h-21zM1270.5 962.9h2l9.5 -19.5h-21zM1272.9 962.9h2l9.5 -19.5h-21zM1275.4 962.9h2l9.5 -19.5h-21zM1277.9 962.8h2l9.5 -19.5h-21zM1280.4 962.7h2l9.5 -19.5h-21zM1282.8 962.7h2l9.5 -19.5h-21zM1285.3 962.6h2l9.5 -19.5h-21zM1287.8 962.6h2l9.5 -19.5h-21zM1290.2 962.5h2l9.5 -19.5h-21zM1292.7 962.4h2l9.5 -19.5h-21zM1295.2 962.4h2l9.5 -19.5h-21zM1297.7 962.3h2l9.5 -19.5h-21zM1300.1 962.2h2l9.5 -19.5h-21zM1302.6 962.2h2l9.5 -19.5h-21zM1305.1 962.1h2l9.5 -19.5h-21zM1307.5 962h2l9.5 -19.5h-21zM1310 961.9h2l9.5 -19.5h-21zM1312.5 961.9h2l9.5 -19.5h-21zM1314.9 961.8h2l9.5 -19.5h-21zM1317.4 961.7h2l9.5 -19.5h-21zM1319.9 961.7h2l9.5 -19.5h-21zM1322.4 961.6h2l9.5 -19.5h-21zM1324.8 961.6h2l9.5 -19.5h-21zM1327.3 961.5h2l9.5 -19.5h-21zM1329.8 961.4h2l9.5 -19.5h-21zM1332.2 961.4h2l9.5 -19.5h-21zM1334.7 961.3h2l9.5 -19.5h-21zM1337.2 961.3h2l9.5 -19.5h-21zM1339.7 961.2h2l9.5 -19.5h-21zM1342.1 961.2h2l9.5 -19.5h-21zM1344.6 961.1h2l9.5 -19.5h-21zM1347.1 961.1h2l9.5 -19.5h-21zM1349.5 961h2l9.5 -19.5h-21zM1352 961h2l9.5 -19.5h-21zM1354.5 960.9h2l9.5 -19.5h-21zM1357 960.9h2l9.5 -19.5h-21zM1359.4 960.8h2l9.5 -19.5h-21zM1361.9 960.8h2l9.5 -19.5h-21zM1364.4 960.7h2l9.5 -19.5h-21zM1366.8 960.7h2l9.5 -19.5h-21zM1369.3 960.6h2l9.5 -19.5h-21zM1371.8 960.6h2l9.5 -19.5h-21zM1374.3 960.5h2l9.5 -19.5h-21zM1376.7 960.5h2l9.5 -19.5h-21zM1379.2 960.4h2l9.5 -19.5h-21zM1381.7 960.4h2l9.5 -19.5h-21zM1384.1 960.3h2l9.5 -19.5h-21zM1386.6 960.3h2l9.5 -19.5h-21zM1389.1 960.2h2l9.5 -19.5h-21zM1391.6 960.2h2l9.5 -19.5h-21zM1394 960.1h2l9.5 -19.5h-21zM1396.5 960h2l9.5 -19.5h-21zM1399 960h2l9.5 -19.5h-21zM1401.4 959.9h2l9.5 -19.5h-21zM1403.9 959.9h2l9.5 -19.5h-21zM1406.4 959.8h2l9.5 -19.5h-21zM1408.8 959.8h2l9.5 -19.5h-21zM1411.3 959.7h2l9.5 -19.5h-21zM1413.8 959.6h2l9.5 -19.5h-21zM1416.3 959.6h2l9.5 -19.5h-21zM1418.7 959.5h2l9.5 -19.5h-21zM1421.2 959.5h2l9.5 -19.5h-21zM1423.7 959.4h2l9.5 -19.5h-21zM1426.1 959.3h2l9.5 -19.5h-21zM1428.6 959.3h2l9.5 -19.5h-21zM1431.1 959.2h2l9.5 -19.5h-21zM1433.6 959.1h2l9.5 -19.5h-21zM1436 959.1h2l9.5 -19.5h-21zM1438.5 959h2l9.5 -19.5h-21zM1441 958.9h2l9.5 -19.5h-21zM1443.4 958.9h2l9.5 -19.5h-21zM1445.9 958.8h2l9.5 -19.5h-21zM1448.4 958.7h2l9.5 -19.5h-21zM1450.9 958.7h2l9.5 -19.5h-21zM1453.3 958.6h2l9.5 -19.5h-21zM1455.8 958.5h2l9.5 -19.5h-21zM1458.3 958.5h2l9.5 -19.5h-21zM1460.7 958.4h2l9.5 -19.5h-21zM1463.2 958.3h2l9.5 -19.5h-21zM1465.7 958.2h2l9.5 -19.5h-21zM1468.2 958.1h2l9.5 -19.5h-21zM1470.6 958.1h2l9.5 -19.5h-21zM1473.1 958h2l9.5 -19.5h-21zM1475.6 957.9h2l9.5 -19.5h-21zM1478 957.8h2l9.5 -19.5h-21zM1480.5 957.7h2l9.5 -19.5h-21zM1483 957.7h2l9.5 -19.5h-21zM1485.4 957.6h2l9.5 -19.5h-21zM1487.9 957.5h2l9.5 -19.5h-21zM1490.4 957.4h2l9.5 -19.5h-21zM1492.9 957.3h2l9.5 -19.5h-21zM1495.3 957.2h2l9.5 -19.5h-21zM1497.8 957.1h2l9.5 -19.5h-21zM1500.3 957.1h2l9.5 -19.5h-21zM1502.7 957h2l9.5 -19.5h-21zM1505.2 956.9h2l9.5 -19.5h-21zM1507.7 956.8h2l9.5 -19.5h-21zM1510.2 956.7h2l9.5 -19.5h-21zM1512.6 956.6h2l9.5 -19.5h-21zM1515.1 956.5h2l9.5 -19.5h-21zM1517.6 956.4h2l9.5 -19.5h-21zM1520 956.3h2l9.5 -19.5h-21zM1522.5 956.2h2l9.5 -19.5h-21zM1525 956.1h2l9.5 -19.5h-21zM1527.5 956h2l9.5 -19.5h-21zM1529.9 955.9h2l9.5 -19.5h-21zM1532.4 955.8h2l9.5 -19.5h-21zM1534.9 955.7h2l9.5 -19.5h-21zM1537.3 955.6h2l9.5 -19.5h-21zM1539.8 955.5h2l9.5 -19.5h-21zM1542.3 955.4h2l9.5 -19.5h-21zM1544.8 955.3h2l9.5 -19.5h-21zM1547.2 955.2h2l9.5 -19.5h-21zM1549.7 955.1h2l9.5 -19.5h-21zM1552.2 955h2l9.5 -19.5h-21zM1554.6 954.9h2l9.5 -19.5h-21zM1557.1 954.8h2l9.5 -19.5h-21zM1559.6 954.7h2l9.5 -19.5h-21zM1562 954.6h2l9.5 -19.5h-21zM1564.5 954.5h2l9.5 -19.5h-21zM1567 954.4h2l9.5 -19.5h-21zM1569.5 954.2h2l9.5 -19.5h-21zM1571.9 954.1h2l9.5 -19.5h-21zM1574.4 954h2l9.5 -19.5h-21zM1576.9 953.9h2l9.5 -19.5h-21zM1579.3 953.8h2l9.5 -19.5h-21zM1581.8 953.7h2l9.5 -19.5h-21zM1584.3 953.6h2l9.5 -19.5h-21zM1586.8 953.5h2l9.5 -19.5h-21zM1589.2 953.4h2l9.5 -19.5h-21zM1591.7 953.3h2l9.5 -19.5h-21zM1594.2 953.1h2l9.5 -19.5h-21zM1596.6 953h2l9.5 -19.5h-21zM1599.1 952.9h2l9.5 -19.5h-21zM1601.6 952.8h2l9.5 -19.5h-21zM1604.1 952.7h2l9.5 -19.5h-21zM1606.5 952.6h2l9.5 -19.5h-21zM1609 952.4h2l9.5 -19.5h-21zM1611.5 952.3h2l9.5 -19.5h-21zM1613.9 952.2h2l9.5 -19.5h-21zM1616.4 952.1h2l9.5 -19.5h-21zM1618.9 951.9h2l9.5 -19.5h-21zM1621.4 951.8h2l9.5 -19.5h-21zM1623.8 951.7h2l9.5 -19.5h-21zM1626.3 951.5h2l9.5 -19.5h-21zM1628.8 951.4h2l9.5 -19.5h-21zM1631.2 951.3h2l9.5 -19.5h-21zM1633.7 951.1h2l9.5 -19.5h-21zM1636.2 951h2l9.5 -19.5h-21zM1638.7 950.9h2l9.5 -19.5h-21zM1641.1 950.7h2l9.5 -19.5h-21zM1643.6 950.6h2l9.5 -19.5h-21zM1646.1 950.5h2l9.5 -19.5h-21zM1648.5 950.3h2l9.5 -19.5h-21zM1651 950.2h2l9.5 -19.5h-21zM1653.5 950h2l9.5 -19.5h-21zM1655.9 949.9h2l9.5 -19.5h-21zM1658.4 949.7h2l9.5 -19.5h-21zM1660.9 949.6h2l9.5 -19.5h-21zM1663.4 949.4h2l9.5 -19.5h-21zM1665.8 949.3h2l9.5 -19.5h-21zM1668.3 949.1h2l9.5 -19.5h-21zM1670.8 949h2l9.5 -19.5h-21zM1673.2 948.8h2l9.5 -19.5h-21zM1675.7 948.6h2l9.5 -19.5h-21zM1678.2 948.5h2l9.5 -19.5h-21zM1680.7 948.3h2l9.5 -19.5h-21zM1683.1 948.1h2l9.5 -19.5h-21zM1685.6 947.9h2l9.5 -19.5h-21zM1688.1 947.7h2l9.5 -19.5h-21zM1690.5 947.5h2l9.5 -19.5h-21zM1693 947.3h2l9.5 -19.5h-21zM1695.5 947.1h2l9.5 -19.5h-21zM1698 946.9h2l9.5 -19.5h-21zM1700.4 946.7h2l9.5 -19.5h-21zM1702.9 946.5h2l9.5 -19.5h-21zM1705.4 946.3h2l9.5 -19.5h-21zM1707.8 946.1h2l9.5 -19.5h-21zM1710.3 946h2l9.5 -19.5h-21zM1712.8 945.8h2l9.5 -19.5h-21zM1715.3 945.6h2l9.5 -19.5h-21zM1717.7 945.4h2l9.5 -19.5h-21zM1720.2 945.2h2l9.5 -19.5h-21zM1722.7 945.1h2l9.5 -19.5h-21zM1725.1 944.9h2l9.5 -19.5h-21zM1727.6 944.8h2l9.5 -19.5h-21zM1730.1 944.7h2l9.5 -19.5h-21zM1732.5 944.5h2l9.5 -19.5h-21zM1735 944.4h2l9.5 -19.5h-21zM1737.5 944.3h2l9.5 -19.5h-21zM1740 944.2h2l9.5 -19.5h-21zM1742.4 944h2l9.5 -19.5h-21zM1744.9 943.9h2l9.5 -19.5h-21zM1747.4 943.8h2l9.5 -19.5h-21zM1749.8 943.7h2l9.5 -19.5h-21zM1752.3 943.6h2l9.5 -19.5h-21zM1754.8 943.5h2l9.5 -19.5h-21zM1757.3 943.5h2l9.5 -19.5h-21zM1759.7 943.4h2l9.5 -19.5h-21zM1762.2 943.3h2l9.5 -19.5h-21z" fill="#f00"/>
</g>
<rect x="1184" y="698" width="108" height="3" fill="#000"/><rect x="1230" y="691" width="16" height="16" fill="#000"/>
<rect x="1184" y="756" width="108" height="3" fill="#f00"/><path d="M1237.5 744.5l10.5 19.5h-21z" fill="#f00"/>
<text class="lg" transform="translate(1303.5,716) scale(1,1.03)">ZIF-8</text>
<text class="lg" transform="translate(1303.5,772.8) scale(1,1.03)">ZIF-8@ZnFe2O3</text>
<text class="tk" text-anchor="middle" transform="translate(281.3,1379.5) scale(1,1.045)">200</text>
<text class="tk" text-anchor="middle" transform="translate(528.3,1379.5) scale(1,1.045)">300</text>
<text class="tk" text-anchor="middle" transform="translate(775.3,1379.5) scale(1,1.045)">400</text>
<text class="tk" text-anchor="middle" transform="translate(1022.3,1379.5) scale(1,1.045)">500</text>
<text class="tk" text-anchor="middle" transform="translate(1269.3,1379.5) scale(1,1.045)">600</text>
<text class="tk" text-anchor="middle" transform="translate(1516.3,1379.5) scale(1,1.045)">700</text>
<text class="tk" text-anchor="middle" transform="translate(1763.3,1379.5) scale(1,1.045)">800</text>
<text class="tk" text-anchor="end" transform="translate(229,1327.5) scale(1,1.045)">0</text>
<text class="tk" text-anchor="end" transform="translate(229,1078.5) scale(1,1.045)">20</text>
<text class="tk" text-anchor="end" transform="translate(229,829.5) scale(1,1.045)">40</text>
<text class="tk" text-anchor="end" transform="translate(229,580.5) scale(1,1.045)">60</text>
<text class="tk" text-anchor="end" transform="translate(229,331.5) scale(1,1.045)">80</text>
<text class="tk" text-anchor="end" transform="translate(229,82.5) scale(1,1.045)">100</text>
<text class="ax" font-style="italic" transform="translate(110,865) rotate(-90) scale(1,1.065)">T% &amp; R%</text>
<text transform="translate(901,1506) scale(1.12,1) skewX(-17)" style="font-family:'Liberation Serif',serif;font-size:88px;stroke:#000;stroke-width:5;stroke-linejoin:round">λ</text>
<text class="ax" transform="translate(991.5,1506) scale(1,1)">(nm)</text>
<text class="an" transform="translate(1619,281) scale(1,1.045)">T</text>
<text class="an" transform="translate(1595,1229) scale(1,1.045)">R</text>
</svg></body></html>
